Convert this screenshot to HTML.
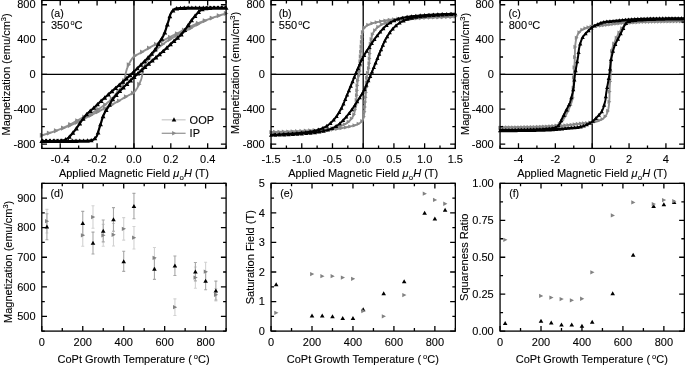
<!DOCTYPE html><html><head><meta charset="utf-8"><style>html,body{margin:0;padding:0;background:#fff;}svg{display:block;font-family:"Liberation Sans", sans-serif;will-change:transform;} text{stroke:#000;stroke-width:0.1px;}</style></head><body>
<svg width="685" height="365" viewBox="0 0 685 365">
<rect width="685" height="365" fill="#fff"/>
<path d="M41.8 74.4H226.1M133.95 0.4V148.4" stroke="#000" stroke-width="1.3" fill="none"/>
<path d="M226.1 13.46L225.93 13.51L225.46 13.66L224.73 13.89L223.78 14.19L222.65 14.54L221.38 14.95L220.01 15.38L218.59 15.84L217.16 16.31L215.75 16.77L214.42 17.22L213.2 17.64L211.82 18.12L210.4 18.61L208.93 19.13L207.45 19.65L205.94 20.19L204.42 20.74L202.91 21.29L201.41 21.86L199.92 22.43L198.47 23.01L197.06 23.59L195.69 24.17L194.53 24.68L193.41 25.2L192.32 25.72L191.26 26.24L190.21 26.77L189.17 27.3L188.13 27.84L187.08 28.39L186.01 28.95L184.91 29.52L183.78 30.1L182.61 30.7L181.08 31.46L179.48 32.26L177.82 33.09L176.12 33.95L174.38 34.81L172.64 35.69L170.9 36.56L169.18 37.43L167.51 38.27L165.89 39.09L164.34 39.88L162.89 40.62L161.85 41.15L160.85 41.66L159.89 42.15L158.95 42.63L158.04 43.09L157.14 43.55L156.26 44.01L155.38 44.47L154.5 44.93L153.62 45.4L152.73 45.88L151.83 46.37L150.91 46.88L149.97 47.4L149.04 47.93L148.1 48.48L147.16 49.02L146.23 49.56L145.31 50.11L144.4 50.64L143.5 51.16L142.63 51.67L141.78 52.16L140.95 52.64L140.31 52.99L139.66 53.33L139.01 53.66L138.37 53.98L137.74 54.29L137.12 54.6L136.52 54.91L135.95 55.22L135.4 55.54L134.88 55.86L134.4 56.2L133.95 56.55L133.64 56.82L133.36 57.1L133.1 57.38L132.85 57.66L132.62 57.94L132.4 58.23L132.19 58.52L131.99 58.82L131.79 59.12L131.59 59.42L131.39 59.73L131.19 60.04L130.98 60.36L130.78 60.68L130.58 61.01L130.39 61.34L130.21 61.67L130.03 62.01L129.85 62.35L129.67 62.7L129.5 63.05L129.32 63.4L129.15 63.76L128.97 64.13L128.78 64.54L128.58 64.95L128.38 65.37L128.18 65.8L127.99 66.24L127.8 66.68L127.61 67.12L127.42 67.56L127.24 68.01L127.07 68.46L126.91 68.9L126.76 69.35L126.62 69.8L126.49 70.25L126.37 70.71L126.25 71.17L126.14 71.63L126.04 72.1L125.94 72.56L125.85 73.02L125.75 73.48L125.66 73.94L125.57 74.39L125.47 74.84L125.39 75.25L125.31 75.65L125.24 76.06L125.17 76.47L125.1 76.87L125.03 77.27L124.96 77.67L124.89 78.06L124.82 78.46L124.74 78.85L124.65 79.24L124.55 79.62L124.45 80L124.35 80.37L124.25 80.73L124.15 81.1L124.04 81.46L123.93 81.82L123.81 82.18L123.68 82.54L123.55 82.9L123.4 83.26L123.25 83.62L123.08 83.98L122.87 84.38L122.65 84.78L122.42 85.17L122.18 85.57L121.92 85.96L121.66 86.36L121.38 86.76L121.1 87.15L120.82 87.55L120.53 87.95L120.24 88.36L119.94 88.76L119.61 89.23L119.26 89.7L118.9 90.18L118.53 90.66L118.15 91.14L117.77 91.63L117.39 92.11L117.01 92.59L116.63 93.06L116.25 93.52L115.88 93.98L115.52 94.42L115.21 94.81L114.92 95.18L114.64 95.54L114.36 95.89L114.09 96.24L113.81 96.59L113.53 96.93L113.23 97.28L112.92 97.64L112.58 98.01L112.22 98.38L111.83 98.78L111.2 99.39L110.51 100.04L109.79 100.7L109.03 101.38L108.22 102.07L107.38 102.77L106.51 103.49L105.61 104.2L104.67 104.92L103.71 105.64L102.71 106.35L101.7 107.05L100.27 107.98L98.75 108.92L97.14 109.87L95.47 110.82L93.74 111.77L91.97 112.73L90.17 113.68L88.36 114.63L86.55 115.57L84.75 116.51L82.98 117.44L81.24 118.36L79.54 119.28L77.84 120.22L76.13 121.16L74.43 122.1L72.72 123.03L71.01 123.96L69.31 124.87L67.6 125.76L65.89 126.62L64.19 127.45L62.48 128.24L60.78 128.99L59.08 129.68L57.18 130.39L55.14 131.11L53.04 131.83L50.95 132.52L48.91 133.17L47.01 133.77L45.31 134.29L43.88 134.73L42.77 135.06L42.05 135.27L41.8 135.34L41.97 135.29L42.44 135.14L43.17 134.91L44.12 134.61L45.25 134.26L46.52 133.85L47.89 133.42L49.31 132.96L50.74 132.49L52.15 132.03L53.48 131.58L54.7 131.16L56.08 130.68L57.5 130.19L58.97 129.67L60.45 129.15L61.96 128.61L63.48 128.06L64.99 127.51L66.49 126.94L67.98 126.37L69.43 125.79L70.84 125.21L72.21 124.63L73.37 124.12L74.49 123.6L75.58 123.08L76.64 122.56L77.69 122.03L78.73 121.5L79.77 120.96L80.82 120.41L81.89 119.85L82.99 119.28L84.12 118.7L85.29 118.1L86.82 117.34L88.42 116.54L90.08 115.71L91.78 114.85L93.52 113.99L95.26 113.11L97 112.24L98.72 111.37L100.39 110.53L102.01 109.71L103.56 108.92L105.01 108.18L106.05 107.65L107.05 107.14L108.01 106.65L108.95 106.17L109.86 105.71L110.76 105.25L111.64 104.79L112.52 104.33L113.4 103.87L114.28 103.4L115.17 102.92L116.07 102.43L116.99 101.92L117.93 101.4L118.86 100.87L119.8 100.32L120.74 99.78L121.67 99.24L122.59 98.69L123.5 98.16L124.4 97.64L125.27 97.13L126.12 96.64L126.95 96.16L127.59 95.81L128.24 95.47L128.89 95.14L129.53 94.82L130.16 94.51L130.78 94.2L131.38 93.89L131.95 93.58L132.5 93.26L133.02 92.94L133.5 92.6L133.95 92.25L134.26 91.98L134.54 91.7L134.8 91.42L135.05 91.14L135.28 90.86L135.5 90.57L135.71 90.28L135.91 89.98L136.11 89.68L136.31 89.38L136.51 89.07L136.71 88.76L136.92 88.44L137.12 88.12L137.32 87.79L137.51 87.46L137.69 87.13L137.87 86.79L138.05 86.45L138.23 86.1L138.4 85.75L138.58 85.4L138.75 85.04L138.93 84.67L139.12 84.26L139.32 83.85L139.52 83.43L139.72 83L139.91 82.56L140.1 82.12L140.29 81.68L140.48 81.24L140.66 80.79L140.83 80.34L140.99 79.9L141.14 79.45L141.28 79L141.41 78.55L141.53 78.09L141.65 77.63L141.76 77.17L141.86 76.7L141.96 76.24L142.05 75.78L142.15 75.32L142.24 74.86L142.33 74.41L142.43 73.96L142.51 73.55L142.59 73.15L142.66 72.74L142.73 72.33L142.8 71.93L142.87 71.53L142.94 71.13L143.01 70.74L143.08 70.34L143.16 69.95L143.25 69.56L143.35 69.18L143.45 68.8L143.55 68.43L143.65 68.07L143.75 67.7L143.86 67.34L143.97 66.98L144.09 66.62L144.22 66.26L144.35 65.9L144.5 65.54L144.65 65.18L144.82 64.82L145.03 64.42L145.25 64.02L145.48 63.63L145.72 63.23L145.98 62.84L146.24 62.44L146.52 62.04L146.8 61.65L147.08 61.25L147.37 60.85L147.66 60.44L147.96 60.04L148.29 59.57L148.64 59.1L149 58.62L149.37 58.14L149.75 57.66L150.13 57.17L150.51 56.69L150.89 56.21L151.27 55.74L151.65 55.28L152.02 54.82L152.38 54.38L152.69 53.99L152.98 53.62L153.26 53.26L153.54 52.91L153.81 52.56L154.09 52.21L154.37 51.87L154.67 51.52L154.98 51.16L155.32 50.79L155.68 50.42L156.07 50.02L156.7 49.41L157.39 48.76L158.11 48.1L158.87 47.42L159.68 46.73L160.52 46.03L161.39 45.31L162.29 44.6L163.23 43.88L164.19 43.16L165.19 42.45L166.2 41.75L167.63 40.82L169.15 39.88L170.76 38.93L172.43 37.98L174.16 37.03L175.93 36.07L177.73 35.12L179.54 34.17L181.35 33.23L183.15 32.29L184.92 31.36L186.66 30.44L188.36 29.52L190.06 28.58L191.77 27.64L193.47 26.7L195.18 25.77L196.89 24.84L198.59 23.93L200.3 23.04L202.01 22.18L203.71 21.35L205.42 20.56L207.12 19.81L208.82 19.12L210.72 18.41L212.76 17.69L214.86 16.97L216.95 16.28L218.99 15.63L220.89 15.03L222.59 14.51L224.02 14.07L225.13 13.74L225.85 13.53L226.1 13.46" fill="none" stroke="#909090" stroke-width="1.9" stroke-linejoin="round"/>
<path d="M224.13 11.04L228.5 13.46L224.13 15.87ZM217.08 13.28L221.45 15.7L217.08 18.11ZM210.03 15.64L214.4 18.06L210.03 20.47ZM202.98 18.13L207.35 20.55L202.98 22.96ZM195.94 20.82L200.31 23.24L195.94 25.65ZM188.93 24.01L193.3 26.42L188.93 28.84ZM181.94 27.62L186.31 30.04L181.94 32.45ZM174.95 31.13L179.32 33.55L174.95 35.96ZM167.96 34.64L172.33 37.06L167.96 39.47ZM160.97 38.18L165.34 40.6L160.97 43.01ZM153.98 41.76L158.35 44.17L153.98 46.59ZM147 45.56L151.37 47.97L147 50.39ZM140.05 49.61L144.42 52.03L140.05 54.44ZM133.07 53.35L137.44 55.76L133.07 58.18ZM126.75 62.24L131.12 64.66L126.75 67.07ZM122.4 77.91L126.77 80.32L122.4 82.74ZM116.42 88.43L120.79 90.84L116.42 93.26ZM109.88 96.35L114.25 98.76L109.88 101.18ZM103.09 102.21L107.46 104.63L103.09 107.04ZM96.18 106.86L100.55 109.28L96.18 111.69ZM89.21 110.73L93.58 113.15L89.21 115.56ZM82.22 114.39L86.59 116.8L82.22 119.22ZM75.25 118.14L79.62 120.56L75.25 122.97ZM68.27 121.96L72.64 124.37L68.27 126.79ZM61.28 125.47L65.65 127.89L61.28 130.3ZM54.25 128.32L58.62 130.73L54.25 133.15ZM47.2 130.68L51.57 133.09L47.2 135.51ZM40.14 132.84L44.51 135.25L40.14 137.67ZM39.83 132.93L44.2 135.34L39.83 137.76ZM46.89 130.69L51.26 133.1L46.89 135.52ZM53.94 128.33L58.31 130.74L53.94 133.16ZM60.99 125.84L65.36 128.25L60.99 130.67ZM68.03 123.15L72.4 125.56L68.03 127.98ZM75.04 119.96L79.41 122.38L75.04 124.79ZM82.02 116.35L86.39 118.76L82.02 121.18ZM89.02 112.84L93.39 115.25L89.02 117.67ZM96.01 109.33L100.38 111.74L96.01 114.16ZM103 105.79L107.37 108.2L103 110.62ZM109.99 102.21L114.36 104.63L109.99 107.04ZM116.96 98.41L121.33 100.83L116.96 103.24ZM123.92 94.36L128.29 96.77L123.92 99.19ZM130.9 90.62L135.27 93.04L130.9 95.45ZM137.21 81.73L141.58 84.14L137.21 86.56ZM141.57 66.06L145.94 68.48L141.57 70.89ZM147.55 55.54L151.92 57.96L147.55 60.37ZM154.08 47.62L158.45 50.04L154.08 52.45ZM160.88 41.76L165.25 44.17L160.88 46.59ZM167.79 37.11L172.16 39.52L167.79 41.94ZM174.76 33.24L179.13 35.65L174.76 38.07ZM181.74 29.58L186.11 32L181.74 34.41ZM188.72 25.83L193.09 28.24L188.72 30.66ZM195.69 22.01L200.06 24.43L195.69 26.84ZM202.69 18.5L207.06 20.91L202.69 23.33ZM209.71 15.65L214.08 18.07L209.71 20.48ZM216.77 13.29L221.14 15.71L216.77 18.12ZM223.83 11.13L228.2 13.55L223.83 15.96Z" fill="#888"/>
<path d="M226.1 7.8L225.54 7.8L223.97 7.8L221.56 7.79L218.48 7.79L214.88 7.79L210.93 7.79L206.8 7.79L202.66 7.8L198.67 7.81L194.99 7.83L191.79 7.85L189.24 7.89L188.07 7.9L186.95 7.92L185.87 7.93L184.83 7.94L183.84 7.96L182.9 7.97L182 8L181.15 8.02L180.34 8.06L179.57 8.11L178.85 8.16L178.18 8.24L177.83 8.28L177.5 8.31L177.19 8.35L176.89 8.39L176.61 8.43L176.34 8.47L176.08 8.52L175.82 8.58L175.58 8.65L175.34 8.73L175.1 8.82L174.86 8.93L174.65 9.05L174.44 9.17L174.24 9.31L174.05 9.46L173.86 9.61L173.68 9.78L173.5 9.95L173.33 10.12L173.16 10.3L172.99 10.48L172.82 10.66L172.65 10.85L172.48 11.04L172.31 11.23L172.15 11.42L171.99 11.62L171.83 11.81L171.68 12.02L171.53 12.23L171.38 12.45L171.23 12.69L171.09 12.93L170.95 13.19L170.81 13.46L170.61 13.89L170.43 14.36L170.25 14.86L170.08 15.39L169.91 15.94L169.75 16.51L169.6 17.09L169.44 17.68L169.28 18.27L169.12 18.85L168.95 19.43L168.78 19.99L168.6 20.56L168.42 21.15L168.23 21.74L168.04 22.33L167.85 22.93L167.66 23.52L167.48 24.11L167.29 24.7L167.1 25.28L166.92 25.85L166.74 26.41L166.57 26.95L166.43 27.41L166.29 27.87L166.16 28.31L166.03 28.75L165.9 29.19L165.77 29.62L165.64 30.05L165.51 30.47L165.37 30.9L165.23 31.32L165.07 31.75L164.91 32.18L164.74 32.62L164.56 33.06L164.38 33.5L164.2 33.94L164.01 34.38L163.81 34.81L163.61 35.25L163.4 35.69L163.19 36.12L162.97 36.55L162.75 36.98L162.52 37.4L162.27 37.83L162.02 38.25L161.75 38.66L161.48 39.07L161.21 39.47L160.93 39.88L160.64 40.28L160.35 40.7L160.06 41.12L159.78 41.55L159.49 41.99L159.2 42.45L158.87 43L158.57 43.56L158.27 44.12L157.99 44.7L157.7 45.28L157.4 45.87L157.08 46.48L156.74 47.11L156.36 47.76L155.95 48.43L155.48 49.13L154.96 49.85L153.82 51.3L152.51 52.86L151.03 54.52L149.42 56.27L147.68 58.09L145.85 59.96L143.95 61.88L141.98 63.83L139.98 65.79L137.96 67.75L135.94 69.7L133.95 71.61L131.48 73.96L128.8 76.43L125.97 78.99L123.03 81.61L120.05 84.25L117.06 86.88L114.11 89.45L111.27 91.94L108.57 94.29L106.08 96.49L103.83 98.49L101.88 100.26L101.01 101.06L100.2 101.82L99.45 102.52L98.75 103.19L98.08 103.83L97.44 104.44L96.83 105.03L96.23 105.61L95.63 106.18L95.02 106.75L94.41 107.33L93.77 107.92L93.18 108.45L92.58 108.98L91.99 109.5L91.39 110.01L90.79 110.51L90.21 111.01L89.63 111.51L89.06 112.01L88.5 112.51L87.97 113.01L87.45 113.51L86.95 114.01L86.55 114.45L86.15 114.88L85.77 115.32L85.4 115.76L85.05 116.19L84.7 116.63L84.36 117.06L84.02 117.5L83.69 117.94L83.36 118.37L83.04 118.8L82.71 119.24L82.42 119.64L82.13 120.04L81.84 120.44L81.56 120.84L81.29 121.24L81.02 121.63L80.75 122.03L80.48 122.43L80.21 122.83L79.94 123.23L79.67 123.62L79.4 124.02L79.12 124.42L78.85 124.82L78.58 125.22L78.31 125.62L78.05 126.02L77.78 126.41L77.5 126.81L77.23 127.21L76.95 127.61L76.67 128.01L76.38 128.41L76.08 128.81L75.75 129.25L75.42 129.69L75.07 130.13L74.72 130.58L74.37 131.02L74.01 131.47L73.65 131.91L73.29 132.35L72.93 132.78L72.56 133.21L72.2 133.63L71.84 134.04L71.51 134.41L71.18 134.79L70.85 135.17L70.52 135.55L70.19 135.93L69.86 136.29L69.52 136.65L69.18 137L68.84 137.33L68.5 137.64L68.14 137.94L67.79 138.21L67.47 138.44L67.15 138.65L66.82 138.86L66.5 139.05L66.17 139.23L65.84 139.4L65.5 139.56L65.16 139.71L64.81 139.85L64.46 139.98L64.1 140.1L63.73 140.22L63.33 140.33L62.93 140.42L62.53 140.49L62.13 140.56L61.72 140.61L61.31 140.65L60.87 140.68L60.42 140.71L59.95 140.74L59.46 140.76L58.94 140.79L58.39 140.83L57.22 140.88L55.77 140.93L54.11 140.96L52.31 140.98L50.45 141L48.59 141.01L46.82 141.01L45.21 141.01L43.83 141.01L42.75 141L42.05 141L41.8 141L42.36 141L43.93 141L46.34 141.01L49.42 141.01L53.02 141.01L56.97 141.01L61.1 141.01L65.24 141L69.23 140.99L72.91 140.97L76.11 140.95L78.66 140.91L79.83 140.9L80.95 140.88L82.03 140.87L83.07 140.86L84.06 140.84L85 140.83L85.9 140.8L86.75 140.78L87.56 140.74L88.33 140.69L89.05 140.64L89.72 140.56L90.07 140.52L90.4 140.49L90.71 140.45L91.01 140.41L91.29 140.37L91.56 140.33L91.82 140.28L92.08 140.22L92.32 140.15L92.56 140.07L92.8 139.98L93.04 139.87L93.25 139.75L93.46 139.63L93.66 139.49L93.85 139.34L94.04 139.19L94.22 139.02L94.4 138.85L94.57 138.68L94.74 138.5L94.91 138.32L95.08 138.14L95.25 137.95L95.42 137.76L95.59 137.57L95.75 137.38L95.91 137.18L96.07 136.99L96.22 136.78L96.37 136.57L96.52 136.35L96.67 136.11L96.81 135.87L96.95 135.61L97.09 135.34L97.29 134.91L97.47 134.44L97.65 133.94L97.82 133.41L97.99 132.86L98.15 132.29L98.3 131.71L98.46 131.12L98.62 130.53L98.78 129.95L98.95 129.37L99.12 128.81L99.3 128.24L99.48 127.65L99.67 127.06L99.86 126.47L100.05 125.87L100.24 125.28L100.42 124.69L100.61 124.1L100.8 123.52L100.98 122.95L101.16 122.39L101.33 121.85L101.47 121.39L101.61 120.93L101.74 120.49L101.87 120.05L102 119.61L102.13 119.18L102.26 118.75L102.39 118.33L102.53 117.9L102.67 117.48L102.83 117.05L102.99 116.62L103.16 116.18L103.34 115.74L103.52 115.3L103.7 114.86L103.89 114.42L104.09 113.99L104.29 113.55L104.5 113.11L104.71 112.68L104.93 112.25L105.15 111.82L105.38 111.4L105.63 110.97L105.88 110.55L106.15 110.14L106.42 109.73L106.69 109.33L106.97 108.92L107.26 108.52L107.55 108.1L107.84 107.68L108.12 107.25L108.41 106.81L108.7 106.35L109.03 105.8L109.33 105.24L109.63 104.68L109.91 104.1L110.2 103.52L110.5 102.93L110.82 102.32L111.16 101.69L111.54 101.04L111.95 100.37L112.42 99.67L112.94 98.95L114.08 97.5L115.39 95.94L116.87 94.28L118.48 92.53L120.22 90.71L122.05 88.84L123.95 86.92L125.92 84.97L127.92 83.01L129.94 81.05L131.96 79.1L133.95 77.19L136.42 74.84L139.1 72.37L141.93 69.81L144.87 67.19L147.85 64.55L150.84 61.92L153.79 59.35L156.63 56.86L159.33 54.51L161.82 52.31L164.07 50.31L166.02 48.54L166.89 47.74L167.7 46.98L168.45 46.28L169.15 45.61L169.82 44.97L170.46 44.36L171.07 43.77L171.67 43.19L172.27 42.62L172.88 42.05L173.49 41.47L174.13 40.88L174.72 40.35L175.32 39.82L175.91 39.3L176.51 38.79L177.11 38.29L177.69 37.79L178.27 37.29L178.84 36.79L179.4 36.29L179.93 35.79L180.45 35.29L180.95 34.79L181.35 34.35L181.75 33.92L182.13 33.48L182.5 33.04L182.85 32.61L183.2 32.17L183.54 31.74L183.88 31.3L184.21 30.86L184.54 30.43L184.86 30L185.19 29.56L185.48 29.16L185.77 28.76L186.06 28.36L186.34 27.96L186.61 27.56L186.88 27.17L187.15 26.77L187.42 26.37L187.69 25.97L187.96 25.57L188.23 25.18L188.5 24.78L188.78 24.38L189.05 23.98L189.32 23.58L189.59 23.18L189.85 22.78L190.12 22.39L190.4 21.99L190.67 21.59L190.95 21.19L191.23 20.79L191.52 20.39L191.82 19.99L192.15 19.55L192.48 19.11L192.83 18.67L193.18 18.22L193.53 17.78L193.89 17.33L194.25 16.89L194.61 16.45L194.97 16.02L195.34 15.59L195.7 15.17L196.06 14.76L196.39 14.39L196.72 14.01L197.05 13.63L197.38 13.25L197.71 12.87L198.04 12.51L198.38 12.15L198.72 11.8L199.06 11.47L199.4 11.16L199.76 10.86L200.11 10.59L200.43 10.36L200.75 10.15L201.08 9.94L201.4 9.75L201.73 9.57L202.06 9.4L202.4 9.24L202.74 9.09L203.09 8.95L203.44 8.82L203.8 8.7L204.17 8.58L204.57 8.47L204.97 8.38L205.37 8.31L205.77 8.24L206.18 8.19L206.59 8.15L207.03 8.12L207.48 8.09L207.95 8.06L208.44 8.04L208.96 8.01L209.51 7.97L210.68 7.92L212.13 7.87L213.79 7.84L215.59 7.82L217.45 7.8L219.31 7.79L221.08 7.79L222.69 7.79L224.07 7.79L225.15 7.8L225.85 7.8L226.1 7.8" fill="none" stroke="#000" stroke-width="2.2" stroke-linejoin="round"/>
<path d="M223.69 9.77L226.1 5.4L228.52 9.77ZM219.89 9.76L222.3 5.39L224.72 9.76ZM216.09 9.76L218.5 5.39L220.92 9.76ZM212.29 9.75L214.7 5.38L217.12 9.75ZM208.49 9.75L210.9 5.38L213.32 9.75ZM204.69 9.76L207.1 5.39L209.52 9.76ZM200.89 9.76L203.3 5.39L205.72 9.76ZM197.09 9.78L199.5 5.41L201.92 9.78ZM193.29 9.79L195.7 5.42L198.12 9.79ZM189.49 9.82L191.9 5.45L194.32 9.82ZM185.69 9.87L188.1 5.5L190.52 9.87ZM181.89 9.92L184.3 5.55L186.72 9.92ZM178.09 10.02L180.5 5.65L182.92 10.02ZM174.29 10.38L176.7 6.01L179.12 10.38ZM170.58 12.44L172.99 8.07L175.41 12.44ZM167.42 18.18L169.84 13.81L172.25 18.18ZM164.95 26.42L167.37 22.05L169.78 26.42ZM162.39 34.42L164.8 30.05L167.22 34.42ZM159.3 40.69L161.71 36.32L164.13 40.69ZM155.96 45.89L158.38 41.52L160.79 45.89ZM152.73 51.56L155.14 47.19L157.56 51.56ZM149.23 55.8L151.65 51.43L154.06 55.8ZM145.68 59.63L148.09 55.26L150.51 59.63ZM142.1 63.28L144.51 58.91L146.93 63.28ZM138.51 66.83L140.92 62.46L143.34 66.83ZM134.91 70.33L137.32 65.96L139.74 70.33ZM131.31 73.8L133.72 69.43L136.14 73.8ZM127.7 77.18L130.11 72.81L132.53 77.18ZM124.08 80.48L126.49 76.11L128.91 80.48ZM120.45 83.73L122.87 79.36L125.28 83.73ZM116.82 86.93L119.24 82.56L121.65 86.93ZM113.19 90.12L115.6 85.75L118.02 90.12ZM109.55 93.29L111.97 88.92L114.38 93.29ZM105.92 96.47L108.34 92.1L110.75 96.47ZM102.29 99.68L104.71 95.31L107.12 99.68ZM98.67 102.96L101.08 98.59L103.5 102.96ZM95.06 106.37L97.48 102L99.89 106.37ZM91.45 109.79L93.87 105.42L96.28 109.79ZM87.82 112.96L90.23 108.59L92.65 112.96ZM84.21 116.33L86.62 111.96L89.04 116.33ZM80.72 120.64L83.14 116.27L85.55 120.64ZM77.32 125.49L79.74 121.12L82.15 125.49ZM73.94 130.41L76.35 126.04L78.77 130.41ZM70.46 134.81L72.88 130.44L75.29 134.81ZM66.93 138.8L69.34 134.43L71.76 138.8ZM63.25 141.45L65.66 137.08L68.08 141.45ZM59.47 142.55L61.88 138.18L64.3 142.55ZM55.67 142.81L58.09 138.44L60.5 142.81ZM51.87 142.92L54.29 138.55L56.7 142.92ZM48.07 142.96L50.49 138.59L52.9 142.96ZM44.27 142.98L46.69 138.61L49.1 142.98ZM40.47 142.97L42.89 138.6L45.3 142.97ZM39.38 142.97L41.8 138.6L44.21 142.97ZM43.18 142.97L45.6 138.6L48.01 142.97ZM46.98 142.98L49.4 138.61L51.81 142.98ZM50.78 142.98L53.2 138.61L55.61 142.98ZM54.58 142.98L57 138.61L59.41 142.98ZM58.38 142.98L60.8 138.61L63.21 142.98ZM62.18 142.97L64.6 138.6L67.01 142.97ZM65.98 142.96L68.4 138.59L70.81 142.96ZM69.78 142.94L72.2 138.57L74.61 142.94ZM73.58 142.91L76 138.54L78.41 142.91ZM77.38 142.86L79.8 138.49L82.21 142.86ZM81.18 142.82L83.6 138.45L86.01 142.82ZM84.98 142.71L87.4 138.34L89.81 142.71ZM88.78 142.35L91.2 137.98L93.61 142.35ZM92.49 140.29L94.91 135.92L97.32 140.29ZM95.65 134.55L98.06 130.18L100.48 134.55ZM98.12 126.31L100.53 121.94L102.95 126.31ZM100.68 118.31L103.1 113.94L105.51 118.31ZM103.77 112.04L106.19 107.67L108.6 112.04ZM107.11 106.84L109.52 102.47L111.94 106.84ZM110.34 101.17L112.76 96.8L115.17 101.17ZM113.84 96.94L116.25 92.57L118.67 96.94ZM117.39 93.1L119.81 88.73L122.22 93.1ZM120.97 89.45L123.39 85.08L125.8 89.45ZM124.56 85.9L126.98 81.53L129.39 85.9ZM128.16 82.4L130.58 78.03L132.99 82.4ZM131.76 78.94L134.18 74.57L136.59 78.94ZM135.37 75.55L137.79 71.18L140.2 75.55ZM138.99 72.25L141.41 67.88L143.82 72.25ZM142.62 69.01L145.03 64.64L147.45 69.01ZM146.25 65.8L148.66 61.43L151.08 65.8ZM149.88 62.62L152.3 58.25L154.71 62.62ZM153.52 59.44L155.93 55.07L158.35 59.44ZM157.15 56.26L159.56 51.89L161.98 56.26ZM160.78 53.05L163.19 48.68L165.61 53.05ZM164.4 49.77L166.82 45.4L169.23 49.77ZM168.01 46.36L170.42 41.99L172.84 46.36ZM171.62 42.94L174.03 38.57L176.45 42.94ZM175.25 39.78L177.67 35.41L180.08 39.78ZM178.86 36.4L181.28 32.03L183.69 36.4ZM182.35 32.09L184.76 27.72L187.18 32.09ZM185.75 27.24L188.16 22.87L190.58 27.24ZM189.13 22.32L191.55 17.95L193.96 22.32ZM192.61 17.93L195.02 13.56L197.44 17.93ZM196.14 13.93L198.56 9.56L200.97 13.93ZM199.82 11.28L202.24 6.91L204.65 11.28ZM203.6 10.18L206.02 5.81L208.43 10.18ZM207.4 9.93L209.81 5.56L212.23 9.93ZM211.2 9.81L213.61 5.44L216.03 9.81ZM215 9.77L217.41 5.4L219.83 9.77ZM218.8 9.76L221.21 5.39L223.63 9.76ZM222.6 9.76L225.01 5.39L227.43 9.76Z" fill="#000"/>
<rect x="41.8" y="0.4" width="184.3" height="148" fill="none" stroke="#000" stroke-width="1.3"/>
<path d="M41.8 148.4v-3M41.8 0.4v3M60.23 148.4v-5.2M60.23 0.4v5.2M78.66 148.4v-3M78.66 0.4v3M97.09 148.4v-5.2M97.09 0.4v5.2M115.52 148.4v-3M115.52 0.4v3M133.95 148.4v-5.2M133.95 0.4v5.2M152.38 148.4v-3M152.38 0.4v3M170.81 148.4v-5.2M170.81 0.4v5.2M189.24 148.4v-3M189.24 0.4v3M207.67 148.4v-5.2M207.67 0.4v5.2M226.1 148.4v-3M226.1 0.4v3M41.8 144.05h5.2M226.1 144.05h-5.2M41.8 126.64h3M226.1 126.64h-3M41.8 109.22h5.2M226.1 109.22h-5.2M41.8 91.81h3M226.1 91.81h-3M41.8 74.4h5.2M226.1 74.4h-5.2M41.8 56.99h3M226.1 56.99h-3M41.8 39.58h5.2M226.1 39.58h-5.2M41.8 22.16h3M226.1 22.16h-3M41.8 4.75h5.2M226.1 4.75h-5.2" stroke="#000" stroke-width="1.3" fill="none"/>
<text x="60.23" y="163" text-anchor="middle" font-size="11">-0.4</text>
<text x="97.09" y="163" text-anchor="middle" font-size="11">-0.2</text>
<text x="133.95" y="163" text-anchor="middle" font-size="11">0.0</text>
<text x="170.81" y="163" text-anchor="middle" font-size="11">0.2</text>
<text x="207.67" y="163" text-anchor="middle" font-size="11">0.4</text>
<text x="35.5" y="147.65" text-anchor="end" font-size="11">-800</text>
<text x="35.5" y="112.82" text-anchor="end" font-size="11">-400</text>
<text x="35.5" y="78" text-anchor="end" font-size="11">0</text>
<text x="35.5" y="43.18" text-anchor="end" font-size="11">400</text>
<text x="35.5" y="8.35" text-anchor="end" font-size="11">800</text>
<text x="133.95" y="176.9" text-anchor="middle" font-size="11">Applied Magnetic Field <tspan font-style="italic">&#956;</tspan><tspan font-size="7.8" dy="2.6" dx="0.3">o</tspan><tspan dy="-2.6" font-style="italic">H</tspan> (T)</text>
<text transform="translate(10.2 74.4) rotate(-90)" text-anchor="middle" font-size="11">Magnetization (emu/cm<tspan font-size="7.5" dy="-4">3</tspan><tspan dy="4">)</tspan></text>
<text x="50.8" y="17.2" text-anchor="start" font-size="10.6">(a)</text>
<text x="51" y="28.6" text-anchor="start" font-size="11">350<tspan font-size="7.3" dy="-4" dx="1.1">o</tspan><tspan dy="4">C</tspan></text>
<path d="M271.05 74.4H455.35M363.2 0.4V148.4" stroke="#000" stroke-width="1.3" fill="none"/>
<path d="M455.35 16.59L454.93 16.6L453.75 16.61L451.91 16.62L449.53 16.65L446.73 16.68L443.62 16.72L440.3 16.77L436.89 16.82L433.51 16.88L430.26 16.95L427.27 17.03L424.63 17.12L422.48 17.19L420.36 17.27L418.25 17.35L416.17 17.43L414.11 17.52L412.06 17.62L410.03 17.73L408.02 17.85L406.02 17.99L404.02 18.14L402.04 18.31L400.06 18.51L398.19 18.71L396.29 18.94L394.38 19.18L392.46 19.43L390.56 19.7L388.68 19.99L386.84 20.28L385.04 20.58L383.3 20.88L381.63 21.19L380.05 21.5L378.56 21.82L377.58 22.03L376.63 22.24L375.71 22.45L374.8 22.67L373.93 22.88L373.09 23.1L372.28 23.33L371.49 23.56L370.75 23.81L370.04 24.06L369.36 24.32L368.73 24.6L368.32 24.8L367.93 25L367.56 25.2L367.2 25.41L366.86 25.62L366.53 25.83L366.21 26.05L365.92 26.27L365.63 26.5L365.36 26.73L365.1 26.97L364.86 27.21L364.67 27.41L364.5 27.61L364.33 27.81L364.18 28.01L364.03 28.22L363.9 28.42L363.77 28.64L363.65 28.86L363.53 29.08L363.42 29.32L363.31 29.57L363.2 29.83L363.07 30.17L362.96 30.52L362.86 30.88L362.77 31.26L362.69 31.65L362.61 32.05L362.54 32.46L362.48 32.89L362.42 33.34L362.35 33.8L362.29 34.29L362.22 34.79L362.11 35.64L362.01 36.55L361.91 37.53L361.82 38.56L361.73 39.64L361.65 40.74L361.57 41.86L361.49 42.99L361.41 44.12L361.33 45.24L361.25 46.34L361.17 47.41L361.09 48.46L361.01 49.5L360.93 50.53L360.86 51.57L360.78 52.61L360.71 53.64L360.63 54.68L360.55 55.72L360.48 56.77L360.4 57.82L360.33 58.88L360.25 59.95L360.17 61.11L360.1 62.32L360.03 63.57L359.97 64.84L359.9 66.12L359.83 67.39L359.76 68.63L359.68 69.82L359.6 70.95L359.5 72L359.39 72.95L359.27 73.79L359.2 74.18L359.12 74.53L359.04 74.86L358.96 75.16L358.87 75.45L358.78 75.72L358.69 75.99L358.61 76.26L358.52 76.53L358.44 76.82L358.36 77.12L358.29 77.45L358.2 77.87L358.12 78.3L358.03 78.74L357.96 79.19L357.88 79.65L357.81 80.12L357.74 80.59L357.67 81.08L357.61 81.57L357.54 82.08L357.48 82.59L357.43 83.11L357.36 83.76L357.3 84.43L357.25 85.12L357.2 85.82L357.16 86.54L357.12 87.27L357.08 88.01L357.04 88.75L357 89.51L356.96 90.27L356.92 91.04L356.87 91.81L356.82 92.71L356.77 93.64L356.72 94.59L356.67 95.57L356.62 96.55L356.56 97.53L356.51 98.51L356.45 99.48L356.38 100.44L356.31 101.37L356.23 102.27L356.14 103.13L356.05 103.81L355.97 104.47L355.88 105.13L355.79 105.77L355.69 106.4L355.59 107.02L355.49 107.63L355.38 108.22L355.27 108.81L355.15 109.39L355.03 109.97L354.91 110.53L354.8 111L354.71 111.46L354.61 111.91L354.52 112.34L354.43 112.78L354.33 113.2L354.21 113.63L354.09 114.05L353.94 114.47L353.78 114.89L353.59 115.32L353.37 115.75L353.06 116.3L352.73 116.87L352.36 117.44L351.97 118.01L351.55 118.58L351.1 119.15L350.62 119.71L350.12 120.26L349.59 120.8L349.03 121.32L348.45 121.81L347.84 122.28L347.04 122.84L346.2 123.37L345.32 123.88L344.4 124.36L343.43 124.82L342.42 125.26L341.38 125.67L340.29 126.07L339.16 126.46L338 126.82L336.79 127.17L335.55 127.51L333.67 127.95L331.67 128.34L329.56 128.68L327.36 128.98L325.07 129.23L322.72 129.46L320.31 129.67L317.86 129.86L315.38 130.03L312.89 130.2L310.39 130.37L307.91 130.55L304.79 130.76L301.22 130.96L297.35 131.15L293.29 131.32L289.2 131.47L285.21 131.61L281.46 131.74L278.08 131.84L275.21 131.92L272.99 131.98L271.56 132.02L271.05 132.03L271.47 132.2L272.65 132.19L274.49 132.18L276.87 132.15L279.67 132.12L282.78 132.08L286.1 132.03L289.51 131.98L292.89 131.92L296.14 131.85L299.13 131.77L301.77 131.68L303.92 131.61L306.04 131.53L308.15 131.45L310.23 131.37L312.29 131.28L314.34 131.18L316.37 131.07L318.38 130.95L320.38 130.81L322.38 130.66L324.36 130.49L326.34 130.29L328.21 130.09L330.11 129.86L332.02 129.62L333.94 129.37L335.84 129.1L337.72 128.81L339.56 128.52L341.36 128.22L343.1 127.92L344.77 127.61L346.35 127.3L347.84 126.98L348.82 126.77L349.77 126.56L350.69 126.35L351.6 126.13L352.47 125.92L353.31 125.7L354.12 125.47L354.91 125.24L355.65 124.99L356.36 124.74L357.04 124.48L357.67 124.2L358.08 124L358.47 123.8L358.84 123.6L359.2 123.39L359.54 123.18L359.87 122.97L360.19 122.75L360.48 122.53L360.77 122.3L361.04 122.07L361.3 121.83L361.54 121.59L361.73 121.39L361.9 121.19L362.07 120.99L362.22 120.79L362.37 120.58L362.5 120.38L362.63 120.16L362.75 119.94L362.87 119.72L362.98 119.48L363.09 119.23L363.2 118.97L363.33 118.63L363.44 118.28L363.54 117.92L363.63 117.54L363.71 117.15L363.79 116.75L363.86 116.34L363.92 115.91L363.98 115.46L364.05 115L364.11 114.51L364.18 114.01L364.29 113.16L364.39 112.25L364.49 111.27L364.58 110.24L364.67 109.16L364.75 108.06L364.83 106.94L364.91 105.81L364.99 104.68L365.07 103.56L365.15 102.46L365.23 101.39L365.31 100.34L365.39 99.3L365.47 98.27L365.54 97.23L365.62 96.19L365.69 95.16L365.77 94.12L365.85 93.08L365.92 92.03L366 90.98L366.07 89.92L366.15 88.85L366.23 87.69L366.3 86.48L366.37 85.23L366.43 83.96L366.5 82.68L366.57 81.41L366.64 80.17L366.72 78.98L366.8 77.85L366.9 76.8L367.01 75.85L367.13 75.01L367.2 74.62L367.28 74.27L367.36 73.94L367.44 73.64L367.53 73.35L367.62 73.08L367.71 72.81L367.79 72.54L367.88 72.27L367.96 71.98L368.04 71.68L368.11 71.35L368.2 70.93L368.28 70.5L368.37 70.06L368.44 69.61L368.52 69.15L368.59 68.68L368.66 68.21L368.73 67.72L368.79 67.23L368.86 66.72L368.92 66.21L368.97 65.69L369.04 65.04L369.1 64.37L369.15 63.68L369.2 62.98L369.24 62.26L369.28 61.53L369.32 60.79L369.36 60.05L369.4 59.29L369.44 58.53L369.48 57.76L369.53 56.99L369.58 56.09L369.63 55.16L369.68 54.21L369.73 53.23L369.78 52.25L369.84 51.27L369.89 50.29L369.95 49.32L370.02 48.36L370.09 47.43L370.17 46.53L370.26 45.67L370.35 44.99L370.43 44.33L370.52 43.67L370.61 43.03L370.71 42.4L370.81 41.78L370.91 41.17L371.02 40.58L371.13 39.99L371.25 39.41L371.37 38.83L371.49 38.27L371.6 37.8L371.69 37.34L371.79 36.89L371.88 36.46L371.97 36.02L372.07 35.6L372.19 35.17L372.31 34.75L372.46 34.33L372.62 33.91L372.81 33.48L373.03 33.05L373.34 32.5L373.67 31.93L374.04 31.36L374.43 30.79L374.85 30.22L375.3 29.65L375.78 29.09L376.28 28.54L376.81 28L377.37 27.48L377.95 26.99L378.56 26.52L379.36 25.96L380.2 25.43L381.08 24.92L382 24.44L382.97 23.98L383.98 23.54L385.02 23.13L386.11 22.73L387.24 22.34L388.4 21.98L389.61 21.63L390.85 21.29L392.73 20.85L394.73 20.46L396.84 20.12L399.04 19.82L401.33 19.57L403.68 19.34L406.09 19.13L408.54 18.94L411.02 18.77L413.51 18.6L416.01 18.43L418.49 18.25L421.61 18.04L425.18 17.84L429.05 17.65L433.11 17.48L437.2 17.33L441.19 17.19L444.94 17.06L448.32 16.96L451.19 16.88L453.41 16.82L454.84 16.78L455.35 16.77" fill="none" stroke="#909090" stroke-width="1.9" stroke-linejoin="round"/>
<path d="M453.64 14.49L457.44 16.59L453.64 18.69ZM449.24 14.53L453.04 16.63L449.24 18.73ZM444.84 14.58L448.64 16.68L444.84 18.78ZM440.44 14.64L444.24 16.74L440.44 18.84ZM436.04 14.71L439.84 16.81L436.04 18.91ZM431.64 14.79L435.44 16.89L431.64 18.99ZM427.24 14.89L431.04 16.99L427.24 19.09ZM422.84 15.02L426.64 17.12L422.84 19.22ZM418.45 15.18L422.25 17.28L418.45 19.38ZM414.05 15.35L417.85 17.45L414.05 19.55ZM409.65 15.56L413.45 17.66L409.65 19.76ZM405.26 15.82L409.06 17.92L405.26 20.02ZM400.87 16.17L404.67 18.27L400.87 20.37ZM396.49 16.61L400.29 18.71L396.49 20.81ZM392.12 17.15L395.92 19.25L392.12 21.35ZM387.75 17.77L391.55 19.87L387.75 21.97ZM383.4 18.46L387.2 20.56L383.4 22.66ZM379.06 19.26L382.86 21.36L379.06 23.46ZM374.73 20.18L378.53 22.28L374.73 24.38ZM370.44 21.27L374.24 23.37L370.44 25.47ZM366.29 22.86L370.09 24.96L366.29 27.06ZM362.69 25.62L366.49 27.72L362.69 29.82ZM360.89 30.01L364.69 32.11L360.89 34.21ZM360.26 34.85L364.06 36.95L360.26 39.05ZM359.86 39.72L363.66 41.82L359.86 43.92ZM359.52 44.59L363.32 46.69L359.52 48.79ZM359.15 49.46L362.95 51.56L359.15 53.66ZM358.79 54.33L362.59 56.43L358.79 58.53ZM358.45 59.21L362.25 61.31L358.45 63.41ZM358.19 64.09L361.99 66.19L358.19 68.29ZM357.88 68.96L361.68 71.06L357.88 73.16ZM357.03 73.74L360.83 75.84L357.03 77.94ZM356.03 78.5L359.83 80.6L356.03 82.7ZM355.52 83.35L359.32 85.45L355.52 87.55ZM355.25 88.23L359.05 90.33L355.25 92.43ZM354.97 93.11L358.77 95.21L354.97 97.31ZM354.7 97.99L358.5 100.09L354.7 102.19ZM354.2 102.84L358 104.94L354.2 107.04ZM353.37 107.64L357.17 109.74L353.37 111.84ZM352.24 112.36L356.04 114.46L352.24 116.56ZM349.86 116.45L353.66 118.55L349.86 120.65ZM346.65 119.78L350.45 121.88L346.65 123.98ZM342.83 122.19L346.63 124.29L342.83 126.39ZM338.71 123.92L342.51 126.02L338.71 128.12ZM334.48 125.23L338.28 127.33L334.48 129.43ZM330.16 126.2L333.96 128.3L330.16 130.4ZM325.8 126.85L329.6 128.95L325.8 131.05ZM321.43 127.32L325.23 129.42L321.43 131.52ZM317.04 127.69L320.84 129.79L317.04 131.89ZM312.65 128L316.45 130.1L312.65 132.2ZM308.26 128.3L312.06 130.4L308.26 132.5ZM303.86 128.61L307.66 130.71L303.86 132.81ZM299.47 128.86L303.27 130.96L299.47 133.06ZM295.07 129.07L298.87 131.17L295.07 133.27ZM290.68 129.25L294.48 131.35L290.68 133.45ZM286.28 129.42L290.08 131.52L286.28 133.62ZM281.88 129.57L285.68 131.67L281.88 133.77ZM277.48 129.71L281.28 131.81L277.48 133.91ZM273.08 129.83L276.88 131.93L273.08 134.03ZM269.34 130.11L273.14 132.21L269.34 134.31ZM273.74 130.07L277.54 132.17L273.74 134.27ZM278.14 130.02L281.94 132.12L278.14 134.22ZM282.54 129.96L286.34 132.06L282.54 134.16ZM286.94 129.89L290.74 131.99L286.94 134.09ZM291.34 129.81L295.14 131.91L291.34 134.01ZM295.74 129.71L299.54 131.81L295.74 133.91ZM300.14 129.58L303.94 131.68L300.14 133.78ZM304.53 129.42L308.33 131.52L304.53 133.62ZM308.93 129.25L312.73 131.35L308.93 133.45ZM313.33 129.04L317.13 131.14L313.33 133.24ZM317.72 128.78L321.52 130.88L317.72 132.98ZM322.11 128.43L325.91 130.53L322.11 132.63ZM326.49 127.99L330.29 130.09L326.49 132.19ZM330.86 127.45L334.66 129.55L330.86 131.65ZM335.23 126.83L339.03 128.93L335.23 131.03ZM339.58 126.14L343.38 128.24L339.58 130.34ZM343.92 125.34L347.72 127.44L343.92 129.54ZM348.25 124.42L352.05 126.52L348.25 128.62ZM352.54 123.33L356.34 125.43L352.54 127.53ZM356.69 121.74L360.49 123.84L356.69 125.94ZM360.29 118.98L364.09 121.08L360.29 123.18ZM362.09 114.59L365.89 116.69L362.09 118.79ZM362.72 109.75L366.52 111.85L362.72 113.95ZM363.12 104.88L366.92 106.98L363.12 109.08ZM363.46 100.01L367.26 102.11L363.46 104.21ZM363.83 95.14L367.63 97.24L363.83 99.34ZM364.19 90.27L367.99 92.37L364.19 94.47ZM364.53 85.39L368.33 87.49L364.53 89.59ZM364.79 80.51L368.59 82.61L364.79 84.71ZM365.1 75.64L368.9 77.74L365.1 79.84ZM365.95 70.86L369.75 72.96L365.95 75.06ZM366.95 66.1L370.75 68.2L366.95 70.3ZM367.46 61.25L371.26 63.35L367.46 65.45ZM367.73 56.37L371.53 58.47L367.73 60.57ZM368.01 51.49L371.81 53.59L368.01 55.69ZM368.28 46.61L372.08 48.71L368.28 50.81ZM368.78 41.76L372.58 43.86L368.78 45.96ZM369.61 36.96L373.41 39.06L369.61 41.16ZM370.74 32.24L374.54 34.34L370.74 36.44ZM373.12 28.15L376.92 30.25L373.12 32.35ZM376.33 24.82L380.13 26.92L376.33 29.02ZM380.15 22.41L383.95 24.51L380.15 26.61ZM384.27 20.68L388.07 22.78L384.27 24.88ZM388.5 19.37L392.3 21.47L388.5 23.57ZM392.82 18.4L396.62 20.5L392.82 22.6ZM397.18 17.75L400.98 19.85L397.18 21.95ZM401.55 17.28L405.35 19.38L401.55 21.48ZM405.94 16.91L409.74 19.01L405.94 21.11ZM410.33 16.6L414.13 18.7L410.33 20.8ZM414.72 16.3L418.52 18.4L414.72 20.5ZM419.12 15.99L422.92 18.09L419.12 20.19ZM423.51 15.74L427.31 17.84L423.51 19.94ZM427.91 15.53L431.71 17.63L427.91 19.73ZM432.3 15.35L436.1 17.45L432.3 19.55ZM436.7 15.18L440.5 17.28L436.7 19.38ZM441.1 15.03L444.9 17.13L441.1 19.23ZM445.5 14.89L449.3 16.99L445.5 19.09ZM449.9 14.77L453.7 16.87L449.9 18.97Z" fill="#888"/>
<path d="M455.35 13.72L455.1 13.73L454.41 13.74L453.33 13.77L451.92 13.81L450.27 13.86L448.42 13.91L446.44 13.97L444.4 14.03L442.37 14.1L440.4 14.18L438.56 14.25L436.92 14.33L435.42 14.41L433.9 14.49L432.39 14.57L430.87 14.66L429.35 14.76L427.84 14.86L426.34 14.96L424.85 15.07L423.38 15.18L421.93 15.3L420.5 15.42L419.1 15.55L417.9 15.66L416.7 15.77L415.52 15.88L414.35 15.99L413.19 16.11L412.05 16.23L410.92 16.36L409.8 16.5L408.69 16.65L407.6 16.82L406.53 17L405.47 17.2L404.53 17.39L403.6 17.59L402.68 17.79L401.77 18L400.87 18.23L399.98 18.46L399.11 18.7L398.25 18.96L397.4 19.24L396.57 19.53L395.76 19.84L394.96 20.16L394.26 20.47L393.57 20.8L392.9 21.13L392.24 21.48L391.59 21.84L390.95 22.22L390.32 22.6L389.71 23L389.1 23.41L388.51 23.82L387.92 24.25L387.34 24.69L386.79 25.13L386.25 25.58L385.73 26.04L385.22 26.51L384.72 26.99L384.22 27.49L383.73 27.99L383.25 28.5L382.77 29.02L382.29 29.54L381.81 30.07L381.32 30.61L380.8 31.19L380.29 31.79L379.78 32.39L379.27 33.01L378.77 33.63L378.27 34.26L377.77 34.9L377.27 35.55L376.78 36.2L376.29 36.86L375.79 37.52L375.3 38.18L374.78 38.89L374.27 39.61L373.76 40.34L373.24 41.08L372.73 41.82L372.23 42.57L371.72 43.33L371.22 44.08L370.72 44.85L370.22 45.61L369.72 46.38L369.22 47.15L368.71 47.94L368.2 48.73L367.68 49.52L367.17 50.31L366.67 51.11L366.16 51.91L365.66 52.72L365.16 53.54L364.66 54.38L364.17 55.23L363.68 56.1L363.2 56.99L362.66 58.02L362.14 59.07L361.62 60.14L361.11 61.22L360.6 62.32L360.1 63.44L359.6 64.58L359.1 65.73L358.6 66.9L358.09 68.08L357.58 69.27L357.06 70.48L356.44 71.92L355.81 73.43L355.17 74.99L354.52 76.59L353.86 78.2L353.21 79.82L352.57 81.43L351.93 83.02L351.32 84.56L350.72 86.04L350.16 87.45L349.62 88.76L349.26 89.65L348.92 90.49L348.59 91.3L348.28 92.09L347.97 92.85L347.67 93.59L347.37 94.33L347.07 95.06L346.77 95.8L346.46 96.54L346.14 97.3L345.81 98.08L345.46 98.92L345.11 99.77L344.76 100.63L344.41 101.5L344.05 102.36L343.69 103.23L343.33 104.1L342.95 104.97L342.56 105.83L342.17 106.68L341.76 107.52L341.33 108.35L340.89 109.18L340.44 110.01L339.99 110.84L339.52 111.67L339.05 112.5L338.56 113.31L338.06 114.12L337.55 114.91L337.03 115.69L336.49 116.46L335.94 117.2L335.37 117.93L334.8 118.62L334.22 119.31L333.61 119.99L333 120.66L332.37 121.32L331.73 121.96L331.08 122.58L330.43 123.18L329.76 123.76L329.1 124.31L328.43 124.84L327.75 125.33L327.15 125.74L326.54 126.13L325.92 126.49L325.3 126.83L324.67 127.16L324.04 127.46L323.4 127.76L322.77 128.04L322.12 128.31L321.48 128.57L320.84 128.82L320.2 129.07L319.58 129.31L318.99 129.52L318.4 129.73L317.82 129.92L317.24 130.11L316.65 130.29L316.05 130.45L315.42 130.62L314.77 130.78L314.08 130.94L313.35 131.09L312.58 131.25L311.22 131.5L309.74 131.74L308.14 131.97L306.47 132.19L304.72 132.4L302.91 132.6L301.07 132.79L299.21 132.97L297.35 133.14L295.51 133.3L293.7 133.45L291.94 133.6L290.07 133.74L287.98 133.87L285.75 134L283.44 134.12L281.13 134.23L278.89 134.34L276.8 134.42L274.93 134.5L273.34 134.56L272.12 134.61L271.33 134.63L271.05 134.64L271.3 135.07L271.99 135.06L273.07 135.03L274.48 134.99L276.13 134.94L277.98 134.89L279.96 134.83L282 134.77L284.03 134.7L286 134.62L287.84 134.55L289.48 134.47L290.98 134.39L292.5 134.31L294.01 134.23L295.53 134.14L297.05 134.04L298.56 133.94L300.06 133.84L301.55 133.73L303.02 133.62L304.47 133.5L305.9 133.38L307.3 133.25L308.5 133.14L309.7 133.03L310.88 132.92L312.05 132.81L313.21 132.69L314.35 132.57L315.48 132.44L316.6 132.3L317.71 132.15L318.8 131.98L319.87 131.8L320.93 131.6L321.87 131.41L322.8 131.21L323.72 131.01L324.63 130.8L325.53 130.57L326.42 130.34L327.29 130.1L328.15 129.84L329 129.56L329.83 129.27L330.64 128.96L331.44 128.64L332.14 128.33L332.83 128L333.5 127.67L334.16 127.32L334.81 126.96L335.45 126.58L336.08 126.2L336.69 125.8L337.3 125.39L337.89 124.98L338.48 124.55L339.06 124.11L339.61 123.67L340.15 123.22L340.67 122.76L341.18 122.29L341.68 121.81L342.18 121.31L342.67 120.81L343.15 120.3L343.63 119.78L344.11 119.26L344.59 118.73L345.08 118.19L345.6 117.61L346.11 117.01L346.62 116.41L347.13 115.79L347.63 115.17L348.13 114.54L348.63 113.9L349.13 113.25L349.62 112.6L350.11 111.94L350.61 111.28L351.1 110.62L351.62 109.91L352.13 109.19L352.64 108.46L353.16 107.72L353.67 106.98L354.17 106.23L354.68 105.47L355.18 104.72L355.68 103.95L356.18 103.19L356.68 102.42L357.18 101.65L357.69 100.86L358.2 100.07L358.72 99.28L359.23 98.49L359.73 97.69L360.24 96.89L360.74 96.08L361.24 95.26L361.74 94.42L362.23 93.57L362.72 92.7L363.2 91.81L363.74 90.78L364.26 89.73L364.78 88.66L365.29 87.58L365.8 86.48L366.3 85.36L366.8 84.22L367.3 83.07L367.8 81.9L368.31 80.72L368.82 79.53L369.34 78.32L369.96 76.88L370.59 75.37L371.23 73.81L371.88 72.21L372.54 70.6L373.19 68.98L373.83 67.37L374.47 65.78L375.08 64.24L375.68 62.76L376.24 61.35L376.78 60.04L377.14 59.15L377.48 58.31L377.81 57.5L378.12 56.71L378.43 55.95L378.73 55.21L379.03 54.47L379.33 53.74L379.63 53L379.94 52.26L380.26 51.5L380.59 50.72L380.94 49.88L381.29 49.03L381.64 48.17L381.99 47.3L382.35 46.44L382.71 45.57L383.07 44.7L383.45 43.83L383.84 42.97L384.23 42.12L384.64 41.28L385.07 40.45L385.51 39.62L385.96 38.79L386.41 37.96L386.88 37.13L387.35 36.3L387.84 35.49L388.34 34.68L388.85 33.89L389.37 33.11L389.91 32.34L390.46 31.6L391.03 30.87L391.6 30.18L392.18 29.49L392.79 28.81L393.4 28.14L394.03 27.48L394.67 26.84L395.32 26.22L395.97 25.62L396.64 25.04L397.3 24.49L397.97 23.96L398.65 23.47L399.25 23.06L399.86 22.67L400.48 22.31L401.1 21.97L401.73 21.64L402.36 21.34L403 21.04L403.63 20.76L404.28 20.49L404.92 20.23L405.56 19.98L406.2 19.73L406.82 19.49L407.41 19.28L408 19.07L408.58 18.88L409.16 18.69L409.75 18.51L410.35 18.35L410.98 18.18L411.63 18.02L412.32 17.86L413.05 17.71L413.82 17.55L415.18 17.3L416.66 17.06L418.26 16.83L419.93 16.61L421.68 16.4L423.49 16.2L425.33 16.01L427.19 15.83L429.05 15.66L430.89 15.5L432.7 15.35L434.46 15.2L436.33 15.06L438.42 14.93L440.65 14.8L442.96 14.68L445.27 14.57L447.51 14.46L449.6 14.38L451.47 14.3L453.06 14.24L454.28 14.19L455.07 14.17L455.35 14.16" fill="none" stroke="#000" stroke-width="2.0" stroke-linejoin="round"/>
<path d="M453.25 15.43L455.35 11.63L457.45 15.43ZM448.85 15.55L450.95 11.75L453.05 15.55ZM444.45 15.68L446.55 11.88L448.65 15.68ZM440.05 15.82L442.15 12.02L444.25 15.82ZM435.66 16L437.76 12.2L439.86 16ZM431.26 16.23L433.36 12.43L435.46 16.23ZM426.87 16.49L428.97 12.69L431.07 16.49ZM422.48 16.8L424.58 13L426.68 16.8ZM418.09 17.16L420.19 13.36L422.29 17.16ZM413.7 17.57L415.8 13.77L417.9 17.57ZM409.32 18.01L411.42 14.21L413.52 18.01ZM404.96 18.62L407.06 14.82L409.16 18.62ZM400.63 19.49L402.73 15.69L404.83 19.49ZM396.35 20.61L398.45 16.81L400.55 20.61ZM392.18 22.17L394.28 18.37L396.38 22.17ZM388.23 24.31L390.33 20.51L392.43 24.31ZM384.54 26.97L386.64 23.17L388.74 26.97ZM381.2 30.15L383.3 26.35L385.4 30.15ZM378.09 33.61L380.19 29.81L382.29 33.61ZM375.17 37.26L377.27 33.46L379.37 37.26ZM372.37 41.04L374.47 37.24L376.57 41.04ZM369.7 44.92L371.8 41.12L373.9 44.92ZM367.11 48.88L369.21 45.08L371.31 48.88ZM364.55 52.85L366.65 49.05L368.75 52.85ZM362.09 56.9L364.19 53.1L366.29 56.9ZM359.87 61.12L361.97 57.32L364.07 61.12ZM357.86 65.47L359.96 61.67L362.06 65.47ZM355.95 69.88L358.05 66.08L360.15 69.88ZM354.07 74.29L356.17 70.49L358.27 74.29ZM352.24 78.74L354.34 74.94L356.44 78.74ZM350.44 83.2L352.54 79.4L354.64 83.2ZM348.66 87.67L350.76 83.87L352.86 87.67ZM346.85 92.13L348.95 88.33L351.05 92.13ZM345.04 96.59L347.14 92.79L349.24 96.59ZM343.2 101.03L345.3 97.23L347.4 101.03ZM341.37 105.47L343.47 101.67L345.57 105.47ZM339.36 109.82L341.46 106.02L343.56 109.82ZM337.07 113.99L339.17 110.19L341.27 113.99ZM334.52 117.98L336.62 114.18L338.72 117.98ZM331.59 121.62L333.69 117.82L335.79 121.62ZM328.32 124.89L330.42 121.09L332.52 124.89ZM324.71 127.67L326.81 123.87L328.91 127.67ZM320.72 129.72L322.82 125.92L324.92 129.72ZM316.57 131.35L318.67 127.55L320.77 131.35ZM312.31 132.57L314.41 128.77L316.51 132.57ZM307.98 133.4L310.08 129.6L312.18 133.4ZM303.61 133.99L305.71 130.19L307.81 133.99ZM299.23 134.47L301.33 130.67L303.43 134.47ZM294.85 134.88L296.95 131.08L299.05 134.88ZM290.46 135.26L292.56 131.46L294.66 135.26ZM286.07 135.57L288.17 131.77L290.27 135.57ZM281.67 135.82L283.77 132.02L285.87 135.82ZM277.28 136.02L279.38 132.22L281.48 136.02ZM272.88 136.21L274.98 132.41L277.08 136.21ZM268.95 136.79L271.05 132.99L273.15 136.79ZM273.35 136.67L275.45 132.87L277.55 136.67ZM277.75 136.54L279.85 132.74L281.95 136.54ZM282.15 136.4L284.25 132.6L286.35 136.4ZM286.54 136.22L288.64 132.42L290.74 136.22ZM290.94 135.99L293.04 132.19L295.14 135.99ZM295.33 135.73L297.43 131.93L299.53 135.73ZM299.72 135.42L301.82 131.62L303.92 135.42ZM304.11 135.06L306.21 131.26L308.31 135.06ZM308.5 134.65L310.6 130.85L312.7 134.65ZM312.88 134.21L314.98 130.41L317.08 134.21ZM317.24 133.6L319.34 129.8L321.44 133.6ZM321.57 132.73L323.67 128.93L325.77 132.73ZM325.85 131.61L327.95 127.81L330.05 131.61ZM330.02 130.05L332.12 126.25L334.22 130.05ZM333.97 127.91L336.07 124.11L338.17 127.91ZM337.66 125.25L339.76 121.45L341.86 125.25ZM341 122.07L343.1 118.27L345.2 122.07ZM344.11 118.61L346.21 114.81L348.31 118.61ZM347.03 114.96L349.13 111.16L351.23 114.96ZM349.83 111.18L351.93 107.38L354.03 111.18ZM352.5 107.3L354.6 103.5L356.7 107.3ZM355.09 103.34L357.19 99.54L359.29 103.34ZM357.65 99.37L359.75 95.57L361.85 99.37ZM360.11 95.32L362.21 91.52L364.31 95.32ZM362.33 91.1L364.43 87.3L366.53 91.1ZM364.34 86.75L366.44 82.95L368.54 86.75ZM366.25 82.34L368.35 78.54L370.45 82.34ZM368.13 77.93L370.23 74.13L372.33 77.93ZM369.96 73.48L372.06 69.68L374.16 73.48ZM371.76 69.02L373.86 65.22L375.96 69.02ZM373.54 64.55L375.64 60.75L377.74 64.55ZM375.35 60.09L377.45 56.29L379.55 60.09ZM377.16 55.63L379.26 51.83L381.36 55.63ZM379 51.19L381.1 47.39L383.2 51.19ZM380.83 46.75L382.93 42.95L385.03 46.75ZM382.84 42.4L384.94 38.6L387.04 42.4ZM385.13 38.23L387.23 34.43L389.33 38.23ZM387.68 34.24L389.78 30.44L391.88 34.24ZM390.61 30.6L392.71 26.8L394.81 30.6ZM393.88 27.33L395.98 23.53L398.08 27.33ZM397.49 24.55L399.59 20.75L401.69 24.55ZM401.48 22.5L403.58 18.7L405.68 22.5ZM405.63 20.87L407.73 17.07L409.83 20.87ZM409.89 19.65L411.99 15.85L414.09 19.65ZM414.22 18.82L416.32 15.02L418.42 18.82ZM418.59 18.23L420.69 14.43L422.79 18.23ZM422.97 17.75L425.07 13.95L427.17 17.75ZM427.35 17.34L429.45 13.54L431.55 17.34ZM431.74 16.96L433.84 13.16L435.94 16.96ZM436.13 16.65L438.23 12.85L440.33 16.65ZM440.53 16.4L442.63 12.6L444.73 16.4ZM444.92 16.2L447.02 12.4L449.12 16.2ZM449.32 16.01L451.42 12.21L453.52 16.01Z" fill="#000"/>
<rect x="271.05" y="0.4" width="184.3" height="148" fill="none" stroke="#000" stroke-width="1.3"/>
<path d="M271.05 148.4v-5.2M271.05 0.4v5.2M286.41 148.4v-3M286.41 0.4v3M301.77 148.4v-5.2M301.77 0.4v5.2M317.12 148.4v-3M317.12 0.4v3M332.48 148.4v-5.2M332.48 0.4v5.2M347.84 148.4v-3M347.84 0.4v3M363.2 148.4v-5.2M363.2 0.4v5.2M378.56 148.4v-3M378.56 0.4v3M393.92 148.4v-5.2M393.92 0.4v5.2M409.28 148.4v-3M409.28 0.4v3M424.63 148.4v-5.2M424.63 0.4v5.2M439.99 148.4v-3M439.99 0.4v3M455.35 148.4v-5.2M455.35 0.4v5.2M271.05 144.05h5.2M455.35 144.05h-5.2M271.05 126.64h3M455.35 126.64h-3M271.05 109.22h5.2M455.35 109.22h-5.2M271.05 91.81h3M455.35 91.81h-3M271.05 74.4h5.2M455.35 74.4h-5.2M271.05 56.99h3M455.35 56.99h-3M271.05 39.58h5.2M455.35 39.58h-5.2M271.05 22.16h3M455.35 22.16h-3M271.05 4.75h5.2M455.35 4.75h-5.2" stroke="#000" stroke-width="1.3" fill="none"/>
<text x="271.05" y="163" text-anchor="middle" font-size="11">-1.5</text>
<text x="301.77" y="163" text-anchor="middle" font-size="11">-1.0</text>
<text x="332.48" y="163" text-anchor="middle" font-size="11">-0.5</text>
<text x="363.2" y="163" text-anchor="middle" font-size="11">0.0</text>
<text x="393.92" y="163" text-anchor="middle" font-size="11">0.5</text>
<text x="424.63" y="163" text-anchor="middle" font-size="11">1.0</text>
<text x="455.35" y="163" text-anchor="middle" font-size="11">1.5</text>
<text x="264.75" y="147.65" text-anchor="end" font-size="11">-800</text>
<text x="264.75" y="112.82" text-anchor="end" font-size="11">-400</text>
<text x="264.75" y="78" text-anchor="end" font-size="11">0</text>
<text x="264.75" y="43.18" text-anchor="end" font-size="11">400</text>
<text x="264.75" y="8.35" text-anchor="end" font-size="11">800</text>
<text x="363.2" y="176.9" text-anchor="middle" font-size="11">Applied Magnetic Field <tspan font-style="italic">&#956;</tspan><tspan font-size="7.8" dy="2.6" dx="0.3">o</tspan><tspan dy="-2.6" font-style="italic">H</tspan> (T)</text>
<text transform="translate(239.45 72.9) rotate(-90)" text-anchor="middle" font-size="11">Magnetization (emu/cm<tspan font-size="7.5" dy="-4">3</tspan><tspan dy="4">)</tspan></text>
<text x="278.65" y="17.2" text-anchor="start" font-size="10.6">(b)</text>
<text x="278.85" y="28.6" text-anchor="start" font-size="11">550<tspan font-size="7.3" dy="-4" dx="1.1">o</tspan><tspan dy="4">C</tspan></text>
<path d="M500.05 74.4H684.35M592.2 0.4V148.4" stroke="#000" stroke-width="1.3" fill="none"/>
<path d="M684.35 20.86L683.96 20.86L682.86 20.87L681.16 20.89L678.97 20.91L676.39 20.94L673.54 20.97L670.52 21L667.45 21.04L664.42 21.08L661.55 21.12L658.94 21.16L656.71 21.21L655.18 21.24L653.72 21.27L652.3 21.3L650.92 21.33L649.58 21.37L648.25 21.4L646.93 21.44L645.61 21.48L644.28 21.53L642.93 21.59L641.54 21.66L640.12 21.73L638.49 21.82L636.84 21.92L635.16 22.03L633.45 22.15L631.74 22.27L630.01 22.4L628.29 22.54L626.56 22.68L624.85 22.83L623.16 22.98L621.49 23.14L619.85 23.3L618.32 23.45L616.8 23.62L615.26 23.8L613.74 23.98L612.22 24.17L610.71 24.35L609.23 24.54L607.77 24.73L606.35 24.91L604.96 25.08L603.63 25.24L602.34 25.39L601.39 25.49L600.46 25.57L599.56 25.65L598.68 25.72L597.81 25.79L596.96 25.86L596.13 25.93L595.32 26.01L594.52 26.09L593.73 26.19L592.96 26.3L592.2 26.43L591.57 26.55L590.96 26.67L590.35 26.8L589.76 26.94L589.17 27.08L588.59 27.23L588.03 27.39L587.47 27.55L586.93 27.71L586.4 27.89L585.89 28.07L585.38 28.26L584.97 28.42L584.56 28.58L584.15 28.75L583.76 28.92L583.37 29.1L582.99 29.28L582.63 29.47L582.27 29.66L581.92 29.86L581.59 30.07L581.27 30.29L580.96 30.52L580.7 30.73L580.44 30.95L580.2 31.18L579.97 31.41L579.75 31.64L579.53 31.89L579.33 32.14L579.13 32.39L578.93 32.65L578.74 32.92L578.56 33.2L578.38 33.48L578.19 33.8L578 34.12L577.83 34.45L577.66 34.79L577.5 35.14L577.35 35.49L577.2 35.86L577.06 36.23L576.92 36.62L576.79 37.01L576.66 37.42L576.53 37.84L576.38 38.39L576.24 38.97L576.11 39.56L575.98 40.16L575.87 40.78L575.77 41.43L575.67 42.08L575.57 42.76L575.49 43.46L575.4 44.18L575.32 44.91L575.24 45.67L575.15 46.79L575.07 47.98L575.01 49.24L574.97 50.54L574.93 51.89L574.91 53.26L574.88 54.64L574.86 56.02L574.83 57.4L574.79 58.75L574.75 60.07L574.69 61.34L574.63 62.47L574.56 63.57L574.48 64.66L574.4 65.74L574.32 66.81L574.23 67.87L574.15 68.93L574.06 70L573.98 71.08L573.91 72.17L573.83 73.27L573.77 74.4L573.71 75.67L573.66 76.97L573.61 78.31L573.58 79.66L573.54 81.02L573.51 82.39L573.47 83.74L573.44 85.08L573.39 86.39L573.34 87.67L573.29 88.9L573.22 90.07L573.16 90.95L573.11 91.81L573.07 92.65L573.03 93.46L572.98 94.26L572.93 95.05L572.86 95.83L572.79 96.59L572.7 97.36L572.59 98.12L572.45 98.88L572.3 99.65L572.11 100.4L571.91 101.15L571.69 101.89L571.44 102.63L571.19 103.37L570.91 104.1L570.63 104.82L570.35 105.54L570.05 106.25L569.75 106.96L569.46 107.66L569.16 108.35L568.88 109.01L568.6 109.66L568.3 110.31L568.01 110.95L567.71 111.59L567.4 112.22L567.09 112.85L566.77 113.46L566.46 114.07L566.13 114.67L565.81 115.26L565.48 115.84L565.17 116.36L564.87 116.88L564.56 117.39L564.25 117.9L563.94 118.4L563.62 118.9L563.3 119.38L562.97 119.85L562.64 120.31L562.3 120.75L561.96 121.18L561.61 121.59L561.3 121.93L561 122.28L560.7 122.61L560.4 122.93L560.09 123.25L559.78 123.55L559.46 123.84L559.12 124.12L558.76 124.38L558.39 124.63L557.98 124.86L557.55 125.07L556.94 125.32L556.31 125.53L555.66 125.7L554.98 125.83L554.27 125.95L553.52 126.04L552.73 126.11L551.89 126.18L551 126.24L550.05 126.31L549.04 126.38L547.97 126.46L544.95 126.65L541 126.82L536.32 126.97L531.16 127.1L525.75 127.2L520.31 127.29L515.08 127.36L510.28 127.42L506.15 127.46L502.92 127.49L500.81 127.5L500.05 127.51L500.44 127.94L501.54 127.93L503.24 127.91L505.43 127.89L508.01 127.86L510.86 127.83L513.88 127.8L516.95 127.76L519.98 127.72L522.85 127.68L525.46 127.64L527.7 127.59L529.22 127.56L530.68 127.53L532.1 127.5L533.48 127.47L534.82 127.43L536.15 127.4L537.47 127.36L538.79 127.32L540.12 127.27L541.47 127.21L542.86 127.14L544.28 127.07L545.91 126.98L547.56 126.88L549.24 126.77L550.95 126.65L552.66 126.53L554.39 126.4L556.11 126.26L557.84 126.12L559.55 125.97L561.24 125.82L562.91 125.66L564.56 125.5L566.08 125.35L567.6 125.18L569.14 125L570.66 124.82L572.18 124.63L573.69 124.45L575.17 124.26L576.63 124.07L578.05 123.89L579.44 123.72L580.77 123.56L582.06 123.41L583.01 123.31L583.94 123.23L584.84 123.15L585.72 123.08L586.59 123.01L587.44 122.94L588.27 122.87L589.08 122.79L589.88 122.71L590.67 122.61L591.44 122.5L592.2 122.37L592.83 122.25L593.44 122.13L594.05 122L594.64 121.86L595.23 121.72L595.81 121.57L596.37 121.41L596.93 121.25L597.47 121.09L598 120.91L598.51 120.73L599.02 120.54L599.43 120.38L599.84 120.22L600.25 120.05L600.64 119.88L601.03 119.7L601.41 119.52L601.77 119.33L602.13 119.14L602.48 118.94L602.81 118.73L603.13 118.51L603.44 118.28L603.7 118.07L603.96 117.85L604.2 117.62L604.43 117.39L604.65 117.16L604.87 116.91L605.07 116.66L605.27 116.41L605.47 116.15L605.66 115.88L605.84 115.6L606.02 115.32L606.21 115L606.4 114.68L606.57 114.35L606.74 114.01L606.9 113.66L607.05 113.31L607.2 112.94L607.34 112.57L607.48 112.18L607.61 111.79L607.74 111.38L607.87 110.96L608.02 110.41L608.16 109.83L608.29 109.24L608.42 108.64L608.53 108.02L608.63 107.37L608.73 106.72L608.83 106.04L608.91 105.34L609 104.62L609.08 103.89L609.16 103.13L609.25 102.01L609.33 100.82L609.39 99.56L609.43 98.26L609.47 96.91L609.49 95.54L609.52 94.16L609.54 92.78L609.57 91.4L609.61 90.05L609.65 88.73L609.71 87.46L609.77 86.33L609.84 85.23L609.92 84.14L610 83.06L610.08 81.99L610.17 80.93L610.25 79.87L610.34 78.8L610.42 77.72L610.49 76.63L610.57 75.53L610.63 74.4L610.69 73.13L610.74 71.83L610.79 70.49L610.82 69.14L610.86 67.78L610.89 66.41L610.93 65.06L610.96 63.72L611.01 62.41L611.06 61.13L611.11 59.9L611.18 58.73L611.24 57.85L611.29 56.99L611.33 56.15L611.37 55.34L611.42 54.54L611.47 53.75L611.54 52.97L611.61 52.21L611.7 51.44L611.81 50.68L611.95 49.92L612.1 49.15L612.29 48.4L612.49 47.65L612.71 46.91L612.96 46.17L613.21 45.43L613.49 44.7L613.77 43.98L614.05 43.26L614.35 42.55L614.65 41.84L614.94 41.14L615.24 40.45L615.52 39.79L615.8 39.14L616.1 38.49L616.39 37.85L616.69 37.21L617 36.58L617.31 35.95L617.63 35.34L617.94 34.73L618.27 34.13L618.59 33.54L618.92 32.96L619.23 32.44L619.53 31.92L619.84 31.41L620.15 30.9L620.46 30.4L620.78 29.9L621.1 29.42L621.43 28.95L621.76 28.49L622.1 28.05L622.44 27.62L622.79 27.21L623.1 26.87L623.4 26.52L623.7 26.19L624 25.87L624.31 25.55L624.62 25.25L624.94 24.96L625.28 24.68L625.64 24.42L626.01 24.17L626.42 23.94L626.85 23.73L627.46 23.48L628.09 23.27L628.74 23.1L629.42 22.97L630.13 22.85L630.88 22.76L631.67 22.69L632.51 22.62L633.4 22.56L634.35 22.49L635.36 22.42L636.43 22.34L639.45 22.15L643.4 21.98L648.08 21.83L653.24 21.7L658.65 21.6L664.09 21.51L669.32 21.44L674.12 21.38L678.25 21.34L681.48 21.31L683.59 21.3L684.35 21.29" fill="none" stroke="#909090" stroke-width="1.9" stroke-linejoin="round"/>
<path d="M682.64 18.76L686.44 20.86L682.64 22.96ZM679.54 18.79L683.34 20.89L679.54 22.99ZM676.44 18.82L680.24 20.92L676.44 23.02ZM673.34 18.85L677.14 20.95L673.34 23.05ZM670.24 18.88L674.04 20.98L670.24 23.08ZM667.14 18.92L670.94 21.02L667.14 23.12ZM664.04 18.96L667.84 21.06L664.04 23.16ZM660.94 19L664.74 21.1L660.94 23.2ZM657.84 19.05L661.64 21.15L657.84 23.25ZM654.74 19.11L658.54 21.21L654.74 23.31ZM651.64 19.18L655.44 21.28L651.64 23.38ZM648.54 19.25L652.34 21.35L648.54 23.45ZM645.44 19.33L649.24 21.43L645.44 23.53ZM642.34 19.44L646.14 21.54L642.34 23.64ZM639.24 19.59L643.04 21.69L639.24 23.79ZM636.14 19.76L639.94 21.86L636.14 23.96ZM633.04 19.96L636.84 22.06L633.04 24.16ZM629.94 20.18L633.74 22.28L629.94 24.38ZM626.84 20.42L630.64 22.52L626.84 24.62ZM623.74 20.68L627.54 22.78L623.74 24.88ZM620.65 20.96L624.45 23.06L620.65 25.16ZM617.55 21.26L621.35 23.36L617.55 25.46ZM614.45 21.59L618.25 23.69L614.45 25.79ZM611.35 21.96L615.15 24.06L611.35 26.16ZM608.25 22.35L612.05 24.45L608.25 26.55ZM605.15 22.74L608.95 24.84L605.15 26.94ZM602.06 23.12L605.86 25.22L602.06 27.32ZM598.96 23.45L602.76 25.55L598.96 27.65ZM595.86 23.71L599.66 25.81L595.86 27.91ZM592.76 24L596.56 26.1L592.76 28.2ZM589.66 24.49L593.46 26.59L589.66 28.69ZM586.57 25.22L590.37 27.32L586.57 29.42ZM583.49 26.23L587.29 28.33L583.49 30.43ZM580.42 27.64L584.22 29.74L580.42 31.84ZM577.43 30.28L581.23 32.38L577.43 34.48ZM574.82 35.74L578.62 37.84L574.82 39.94ZM573.43 44.84L577.23 46.94L573.43 49.04ZM573.12 55.11L576.92 57.21L573.12 59.31ZM572.56 65.26L576.36 67.36L572.56 69.46ZM571.93 75.36L575.73 77.46L571.93 79.56ZM571.63 85.65L575.43 87.75L571.63 89.85ZM570.93 95.68L574.73 97.78L570.93 99.88ZM568.79 103.04L572.59 105.14L568.79 107.24ZM566.25 108.95L570.05 111.05L566.25 113.15ZM563.56 114.09L567.36 116.19L563.56 118.29ZM560.75 118.44L564.55 120.54L560.75 122.64ZM557.81 121.68L561.61 123.78L557.81 125.88ZM554.76 123.38L558.56 125.48L554.76 127.58ZM551.66 123.95L555.46 126.05L551.66 128.15ZM548.56 124.19L552.36 126.29L548.56 128.39ZM545.46 124.41L549.26 126.51L545.46 128.61ZM542.36 124.59L546.16 126.69L542.36 128.79ZM539.26 124.72L543.06 126.82L539.26 128.92ZM536.16 124.82L539.96 126.92L536.16 129.02ZM533.06 124.91L536.86 127.01L533.06 129.11ZM529.96 124.98L533.76 127.08L529.96 129.18ZM526.86 125.05L530.66 127.15L526.86 129.25ZM523.76 125.11L527.56 127.21L523.76 129.31ZM520.66 125.16L524.46 127.26L520.66 129.36ZM517.57 125.21L521.37 127.31L517.57 129.41ZM514.47 125.25L518.27 127.35L514.47 129.45ZM511.37 125.29L515.17 127.39L511.37 129.49ZM508.27 125.32L512.07 127.42L508.27 129.52ZM505.17 125.35L508.97 127.45L505.17 129.55ZM502.07 125.38L505.87 127.48L502.07 129.58ZM498.97 125.4L502.77 127.5L498.97 129.6ZM498.34 125.84L502.14 127.94L498.34 130.04ZM501.44 125.81L505.24 127.91L501.44 130.01ZM504.54 125.78L508.34 127.88L504.54 129.98ZM507.64 125.75L511.44 127.85L507.64 129.95ZM510.74 125.72L514.54 127.82L510.74 129.92ZM513.84 125.68L517.64 127.78L513.84 129.88ZM516.94 125.64L520.74 127.74L516.94 129.84ZM520.04 125.6L523.84 127.7L520.04 129.8ZM523.14 125.55L526.94 127.65L523.14 129.75ZM526.24 125.49L530.04 127.59L526.24 129.69ZM529.34 125.42L533.14 127.52L529.34 129.62ZM532.44 125.35L536.24 127.45L532.44 129.55ZM535.54 125.27L539.34 127.37L535.54 129.47ZM538.64 125.16L542.44 127.26L538.64 129.36ZM541.74 125.01L545.54 127.11L541.74 129.21ZM544.84 124.84L548.64 126.94L544.84 129.04ZM547.94 124.64L551.74 126.74L547.94 128.84ZM551.04 124.42L554.84 126.52L551.04 128.62ZM554.14 124.18L557.94 126.28L554.14 128.38ZM557.24 123.92L561.04 126.02L557.24 128.12ZM560.33 123.64L564.13 125.74L560.33 127.84ZM563.43 123.34L567.23 125.44L563.43 127.54ZM566.53 123.01L570.33 125.11L566.53 127.21ZM569.63 122.64L573.43 124.74L569.63 126.84ZM572.73 122.25L576.53 124.35L572.73 126.45ZM575.83 121.86L579.63 123.96L575.83 126.06ZM578.92 121.48L582.72 123.58L578.92 125.68ZM582.02 121.15L585.82 123.25L582.02 125.35ZM585.12 120.89L588.92 122.99L585.12 125.09ZM588.22 120.6L592.02 122.7L588.22 124.8ZM591.32 120.11L595.12 122.21L591.32 124.31ZM594.41 119.38L598.21 121.48L594.41 123.58ZM597.49 118.37L601.29 120.47L597.49 122.57ZM600.56 116.96L604.36 119.06L600.56 121.16ZM603.55 114.32L607.35 116.42L603.55 118.52ZM606.16 108.86L609.96 110.96L606.16 113.06ZM607.55 99.76L611.35 101.86L607.55 103.96ZM607.86 89.49L611.66 91.59L607.86 93.69ZM608.42 79.34L612.22 81.44L608.42 83.54ZM609.05 69.24L612.85 71.34L609.05 73.44ZM609.35 58.95L613.15 61.05L609.35 63.15ZM610.05 48.92L613.85 51.02L610.05 53.12ZM612.19 41.56L615.99 43.66L612.19 45.76ZM614.73 35.65L618.53 37.75L614.73 39.85ZM617.42 30.51L621.22 32.61L617.42 34.71ZM620.23 26.16L624.03 28.26L620.23 30.36ZM623.17 22.92L626.97 25.02L623.17 27.12ZM626.22 21.22L630.02 23.32L626.22 25.42ZM629.32 20.65L633.12 22.75L629.32 24.85ZM632.42 20.41L636.22 22.51L632.42 24.61ZM635.52 20.19L639.32 22.29L635.52 24.39ZM638.62 20.01L642.42 22.11L638.62 24.21ZM641.72 19.88L645.52 21.98L641.72 24.08ZM644.82 19.78L648.62 21.88L644.82 23.98ZM647.92 19.69L651.72 21.79L647.92 23.89ZM651.02 19.62L654.82 21.72L651.02 23.82ZM654.12 19.55L657.92 21.65L654.12 23.75ZM657.22 19.49L661.02 21.59L657.22 23.69ZM660.32 19.44L664.12 21.54L660.32 23.64ZM663.41 19.39L667.21 21.49L663.41 23.59ZM666.51 19.35L670.31 21.45L666.51 23.55ZM669.61 19.31L673.41 21.41L669.61 23.51ZM672.71 19.28L676.51 21.38L672.71 23.48ZM675.81 19.25L679.61 21.35L675.81 23.45ZM678.91 19.22L682.71 21.32L678.91 23.42ZM682.01 19.2L685.81 21.3L682.01 23.4Z" fill="#888"/>
<path d="M684.35 18.25L683.97 18.25L682.89 18.26L681.23 18.27L679.07 18.28L676.53 18.3L673.71 18.32L670.72 18.35L667.65 18.37L664.61 18.4L661.7 18.44L659.03 18.47L656.71 18.51L654.9 18.54L653.14 18.57L651.4 18.59L649.69 18.62L647.99 18.65L646.32 18.68L644.66 18.72L643.01 18.76L641.37 18.81L639.73 18.88L638.08 18.95L636.43 19.03L634.83 19.12L633.23 19.22L631.64 19.34L630.04 19.45L628.45 19.58L626.87 19.71L625.3 19.85L623.73 19.99L622.19 20.14L620.65 20.29L619.13 20.44L617.63 20.6L616.28 20.73L614.92 20.85L613.56 20.95L612.2 21.06L610.86 21.17L609.53 21.29L608.23 21.42L606.94 21.57L605.69 21.75L604.47 21.97L603.29 22.22L602.15 22.51L601.23 22.79L600.32 23.11L599.41 23.45L598.52 23.82L597.65 24.21L596.8 24.61L595.98 25.01L595.2 25.42L594.47 25.82L593.78 26.21L593.14 26.59L592.57 26.95L592.27 27.15L591.99 27.34L591.74 27.53L591.51 27.72L591.29 27.9L591.09 28.08L590.88 28.27L590.68 28.46L590.48 28.65L590.27 28.86L590.05 29.08L589.8 29.3L589.46 29.63L589.1 29.97L588.72 30.34L588.34 30.72L587.95 31.12L587.55 31.52L587.16 31.92L586.78 32.32L586.4 32.72L586.04 33.1L585.7 33.48L585.38 33.83L585.15 34.09L584.92 34.34L584.7 34.59L584.49 34.82L584.28 35.06L584.08 35.29L583.89 35.53L583.7 35.76L583.52 36.01L583.34 36.26L583.16 36.52L582.99 36.79L582.8 37.1L582.63 37.4L582.46 37.72L582.3 38.04L582.15 38.36L582 38.69L581.85 39.03L581.71 39.38L581.57 39.74L581.43 40.11L581.28 40.49L581.14 40.88L580.95 41.42L580.77 41.98L580.58 42.57L580.39 43.17L580.21 43.8L580.03 44.43L579.86 45.07L579.69 45.72L579.53 46.37L579.38 47.02L579.24 47.65L579.11 48.28L579 48.89L578.91 49.49L578.82 50.09L578.75 50.68L578.69 51.27L578.62 51.87L578.57 52.48L578.51 53.09L578.44 53.71L578.37 54.35L578.29 55.01L578.19 55.68L578.06 56.58L577.91 57.51L577.74 58.49L577.57 59.49L577.39 60.51L577.21 61.54L577.02 62.57L576.84 63.59L576.66 64.6L576.49 65.58L576.32 66.53L576.17 67.44L576.05 68.14L575.93 68.81L575.82 69.46L575.7 70.1L575.59 70.72L575.49 71.34L575.38 71.96L575.28 72.59L575.17 73.22L575.07 73.88L574.97 74.56L574.88 75.27L574.76 76.2L574.65 77.17L574.55 78.18L574.46 79.21L574.36 80.26L574.27 81.33L574.17 82.39L574.07 83.45L573.97 84.5L573.85 85.52L573.73 86.51L573.59 87.46L573.46 88.24L573.32 89.01L573.18 89.77L573.04 90.51L572.89 91.25L572.73 91.97L572.58 92.69L572.41 93.4L572.25 94.1L572.08 94.79L571.91 95.48L571.74 96.16L571.59 96.77L571.44 97.37L571.29 97.96L571.15 98.54L570.99 99.12L570.84 99.69L570.68 100.26L570.51 100.83L570.33 101.4L570.14 101.97L569.94 102.55L569.72 103.13L569.45 103.78L569.17 104.42L568.87 105.07L568.55 105.73L568.22 106.38L567.89 107.03L567.54 107.69L567.2 108.35L566.85 109L566.51 109.66L566.17 110.31L565.85 110.96L565.52 111.62L565.19 112.28L564.87 112.95L564.54 113.62L564.21 114.29L563.88 114.95L563.55 115.61L563.23 116.27L562.91 116.92L562.59 117.56L562.28 118.19L561.97 118.8L561.72 119.33L561.47 119.87L561.23 120.41L561 120.95L560.76 121.48L560.53 122L560.3 122.51L560.06 123L559.81 123.47L559.56 123.92L559.3 124.34L559.03 124.72L558.82 124.99L558.61 125.24L558.41 125.48L558.21 125.7L558 125.92L557.78 126.12L557.56 126.31L557.33 126.5L557.09 126.67L556.83 126.84L556.55 127L556.26 127.16L555.85 127.35L555.41 127.52L554.96 127.67L554.49 127.8L554 127.92L553.48 128.02L552.94 128.12L552.37 128.21L551.78 128.29L551.15 128.37L550.5 128.46L549.81 128.55L548.44 128.71L546.92 128.85L545.28 128.98L543.52 129.09L541.67 129.19L539.74 129.28L537.76 129.35L535.74 129.43L533.71 129.49L531.68 129.56L529.67 129.62L527.7 129.68L525.32 129.75L522.63 129.82L519.71 129.87L516.66 129.92L513.6 129.97L510.61 130.01L507.81 130.04L505.28 130.07L503.15 130.09L501.49 130.11L500.43 130.11L500.05 130.12L500.43 130.55L501.51 130.54L503.17 130.53L505.33 130.52L507.87 130.5L510.69 130.48L513.68 130.45L516.75 130.43L519.79 130.4L522.7 130.36L525.37 130.33L527.7 130.29L529.5 130.26L531.26 130.23L533 130.21L534.71 130.18L536.41 130.15L538.08 130.12L539.74 130.08L541.39 130.04L543.03 129.99L544.67 129.92L546.32 129.85L547.97 129.77L549.57 129.68L551.17 129.58L552.76 129.46L554.36 129.35L555.95 129.22L557.53 129.09L559.1 128.95L560.67 128.81L562.21 128.66L563.75 128.51L565.27 128.36L566.77 128.2L568.12 128.07L569.48 127.95L570.84 127.85L572.2 127.74L573.54 127.63L574.87 127.51L576.17 127.38L577.46 127.23L578.71 127.05L579.93 126.83L581.11 126.58L582.25 126.29L583.17 126.01L584.08 125.69L584.99 125.35L585.88 124.98L586.75 124.59L587.6 124.19L588.42 123.79L589.2 123.38L589.93 122.98L590.62 122.59L591.26 122.21L591.83 121.85L592.13 121.65L592.41 121.46L592.66 121.27L592.89 121.08L593.11 120.9L593.31 120.72L593.52 120.53L593.72 120.34L593.92 120.15L594.13 119.94L594.35 119.72L594.6 119.5L594.94 119.17L595.3 118.83L595.68 118.46L596.06 118.08L596.45 117.68L596.85 117.28L597.24 116.88L597.62 116.48L598 116.08L598.36 115.7L598.7 115.32L599.02 114.97L599.25 114.71L599.48 114.46L599.7 114.21L599.91 113.98L600.12 113.74L600.32 113.51L600.51 113.27L600.7 113.04L600.88 112.79L601.06 112.54L601.24 112.28L601.41 112.01L601.6 111.7L601.77 111.4L601.94 111.08L602.1 110.76L602.25 110.44L602.4 110.11L602.55 109.77L602.69 109.42L602.83 109.06L602.97 108.69L603.12 108.31L603.26 107.92L603.45 107.38L603.63 106.82L603.82 106.23L604.01 105.63L604.19 105L604.37 104.37L604.54 103.73L604.71 103.08L604.87 102.43L605.02 101.78L605.16 101.15L605.29 100.52L605.4 99.91L605.49 99.31L605.58 98.71L605.65 98.12L605.71 97.53L605.78 96.93L605.83 96.32L605.89 95.71L605.96 95.09L606.03 94.45L606.11 93.79L606.21 93.12L606.34 92.22L606.49 91.29L606.66 90.31L606.83 89.31L607.01 88.29L607.19 87.26L607.38 86.23L607.56 85.21L607.74 84.2L607.91 83.22L608.08 82.27L608.23 81.36L608.35 80.66L608.47 79.99L608.58 79.34L608.7 78.7L608.81 78.08L608.91 77.46L609.02 76.84L609.12 76.21L609.23 75.58L609.33 74.92L609.43 74.24L609.52 73.53L609.64 72.6L609.75 71.63L609.85 70.62L609.94 69.59L610.04 68.54L610.13 67.47L610.23 66.41L610.33 65.35L610.43 64.3L610.55 63.28L610.67 62.29L610.81 61.34L610.94 60.56L611.08 59.79L611.22 59.03L611.36 58.29L611.51 57.55L611.67 56.83L611.82 56.11L611.99 55.4L612.15 54.7L612.32 54.01L612.49 53.32L612.66 52.64L612.81 52.03L612.96 51.43L613.11 50.84L613.25 50.26L613.41 49.68L613.56 49.11L613.72 48.54L613.89 47.97L614.07 47.4L614.26 46.83L614.46 46.25L614.68 45.67L614.95 45.02L615.23 44.38L615.53 43.73L615.85 43.07L616.18 42.42L616.51 41.77L616.86 41.11L617.2 40.45L617.55 39.8L617.89 39.14L618.23 38.49L618.55 37.84L618.88 37.18L619.21 36.52L619.53 35.85L619.86 35.18L620.19 34.51L620.52 33.85L620.85 33.19L621.17 32.53L621.49 31.88L621.81 31.24L622.12 30.61L622.43 30L622.68 29.47L622.93 28.93L623.17 28.39L623.4 27.85L623.64 27.32L623.87 26.8L624.1 26.29L624.34 25.8L624.59 25.33L624.84 24.88L625.1 24.46L625.37 24.08L625.58 23.81L625.79 23.56L625.99 23.32L626.19 23.1L626.4 22.88L626.62 22.68L626.84 22.49L627.07 22.3L627.31 22.13L627.57 21.96L627.85 21.8L628.14 21.64L628.55 21.45L628.99 21.28L629.44 21.13L629.91 21L630.4 20.88L630.92 20.78L631.46 20.68L632.03 20.59L632.62 20.51L633.25 20.43L633.9 20.34L634.59 20.25L635.96 20.09L637.48 19.95L639.12 19.82L640.88 19.71L642.73 19.61L644.66 19.52L646.64 19.45L648.66 19.37L650.69 19.31L652.72 19.24L654.73 19.18L656.71 19.12L659.08 19.05L661.77 18.98L664.69 18.93L667.74 18.88L670.8 18.83L673.79 18.79L676.59 18.76L679.12 18.73L681.25 18.71L682.91 18.69L683.97 18.69L684.35 18.68" fill="none" stroke="#000" stroke-width="2.0" stroke-linejoin="round"/>
<path d="M682.25 19.96L684.35 16.16L686.45 19.96ZM679.15 19.98L681.25 16.18L683.35 19.98ZM676.05 20L678.15 16.2L680.25 20ZM672.95 20.02L675.05 16.22L677.15 20.02ZM669.85 20.05L671.95 16.25L674.05 20.05ZM666.75 20.07L668.85 16.27L670.95 20.07ZM663.65 20.1L665.75 16.3L667.85 20.1ZM660.55 20.14L662.65 16.34L664.75 20.14ZM657.45 20.17L659.55 16.37L661.65 20.17ZM654.35 20.22L656.45 16.42L658.55 20.22ZM651.25 20.27L653.35 16.47L655.45 20.27ZM648.15 20.32L650.25 16.52L652.35 20.32ZM645.05 20.38L647.15 16.58L649.25 20.38ZM641.95 20.45L644.05 16.65L646.15 20.45ZM638.85 20.54L640.95 16.74L643.05 20.54ZM635.75 20.67L637.85 16.87L639.95 20.67ZM632.65 20.84L634.75 17.04L636.85 20.84ZM629.55 21.04L631.65 17.24L633.75 21.04ZM626.45 21.28L628.55 17.48L630.65 21.28ZM623.35 21.55L625.45 17.75L627.55 21.55ZM620.25 21.84L622.35 18.04L624.45 21.84ZM617.16 22.14L619.26 18.34L621.36 22.14ZM614.06 22.45L616.16 18.65L618.26 22.45ZM610.96 22.7L613.06 18.9L615.16 22.7ZM607.86 22.96L609.96 19.16L612.06 22.96ZM604.76 23.3L606.86 19.5L608.96 23.3ZM601.67 23.83L603.77 20.03L605.87 23.83ZM598.58 24.7L600.68 20.9L602.78 24.7ZM595.5 25.94L597.6 22.14L599.7 25.94ZM592.43 27.49L594.53 23.69L596.63 27.49ZM589.39 29.44L591.49 25.64L593.59 29.44ZM586.41 32.26L588.51 28.46L590.61 32.26ZM583.45 35.35L585.55 31.55L587.65 35.35ZM580.56 39.06L582.66 35.26L584.76 39.06ZM578.13 45.42L580.23 41.62L582.33 45.42ZM576.48 54.03L578.58 50.23L580.68 54.03ZM575.11 63.26L577.21 59.46L579.31 63.26ZM573.54 72.17L575.64 68.37L577.74 72.17ZM572.29 81.6L574.39 77.8L576.49 81.6ZM571.14 91.15L573.24 87.35L575.34 91.15ZM569.27 99.37L571.37 95.57L573.47 99.37ZM566.99 106.3L569.09 102.5L571.19 106.3ZM564.32 111.54L566.42 107.74L568.52 111.54ZM561.67 116.89L563.77 113.09L565.87 116.89ZM559.03 122.34L561.13 118.54L563.23 122.34ZM556.31 127.18L558.41 123.38L560.51 127.18ZM553.28 129.24L555.38 125.44L557.48 129.24ZM550.19 129.93L552.29 126.13L554.39 129.93ZM547.09 130.33L549.19 126.53L551.29 130.33ZM543.99 130.63L546.09 126.83L548.19 130.63ZM540.89 130.83L542.99 127.03L545.09 130.83ZM537.79 130.98L539.89 127.18L541.99 130.98ZM534.69 131.1L536.79 127.3L538.89 131.1ZM531.59 131.2L533.69 127.4L535.79 131.2ZM528.49 131.3L530.59 127.5L532.69 131.3ZM525.39 131.4L527.49 127.6L529.59 131.4ZM522.29 131.48L524.39 127.68L526.49 131.48ZM519.19 131.55L521.29 127.75L523.39 131.55ZM516.09 131.61L518.19 127.81L520.29 131.61ZM512.99 131.66L515.09 127.86L517.19 131.66ZM509.89 131.7L511.99 127.9L514.09 131.7ZM506.79 131.74L508.89 127.94L510.99 131.74ZM503.69 131.77L505.79 127.97L507.89 131.77ZM500.59 131.8L502.69 128L504.79 131.8ZM497.95 132.26L500.05 128.46L502.15 132.26ZM501.05 132.24L503.15 128.44L505.25 132.24ZM504.15 132.22L506.25 128.42L508.35 132.22ZM507.25 132.2L509.35 128.4L511.45 132.2ZM510.35 132.17L512.45 128.37L514.55 132.17ZM513.45 132.15L515.55 128.35L517.65 132.15ZM516.55 132.12L518.65 128.32L520.75 132.12ZM519.65 132.08L521.75 128.28L523.85 132.08ZM522.75 132.05L524.85 128.25L526.95 132.05ZM525.85 132L527.95 128.2L530.05 132ZM528.95 131.95L531.05 128.15L533.15 131.95ZM532.05 131.9L534.15 128.1L536.25 131.9ZM535.15 131.84L537.25 128.04L539.35 131.84ZM538.25 131.77L540.35 127.97L542.45 131.77ZM541.35 131.68L543.45 127.88L545.55 131.68ZM544.45 131.55L546.55 127.75L548.65 131.55ZM547.55 131.38L549.65 127.58L551.75 131.38ZM550.65 131.18L552.75 127.38L554.85 131.18ZM553.75 130.94L555.85 127.14L557.95 130.94ZM556.85 130.67L558.95 126.87L561.05 130.67ZM559.95 130.38L562.05 126.58L564.15 130.38ZM563.04 130.08L565.14 126.28L567.24 130.08ZM566.14 129.77L568.24 125.97L570.34 129.77ZM569.24 129.52L571.34 125.72L573.44 129.52ZM572.34 129.26L574.44 125.46L576.54 129.26ZM575.44 128.92L577.54 125.12L579.64 128.92ZM578.53 128.39L580.63 124.59L582.73 128.39ZM581.62 127.52L583.72 123.72L585.82 127.52ZM584.7 126.28L586.8 122.48L588.9 126.28ZM587.77 124.73L589.87 120.93L591.97 124.73ZM590.81 122.78L592.91 118.98L595.01 122.78ZM593.79 119.96L595.89 116.16L597.99 119.96ZM596.75 116.87L598.85 113.07L600.95 116.87ZM599.64 113.16L601.74 109.36L603.84 113.16ZM602.07 106.8L604.17 103L606.27 106.8ZM603.72 98.19L605.82 94.39L607.92 98.19ZM605.09 88.96L607.19 85.16L609.29 88.96ZM606.66 80.05L608.76 76.25L610.86 80.05ZM607.91 70.62L610.01 66.82L612.11 70.62ZM609.06 61.07L611.16 57.27L613.26 61.07ZM610.93 52.85L613.03 49.05L615.13 52.85ZM613.21 45.92L615.31 42.12L617.41 45.92ZM615.88 40.68L617.98 36.88L620.08 40.68ZM618.53 35.33L620.63 31.53L622.73 35.33ZM621.17 29.88L623.27 26.08L625.37 29.88ZM623.89 25.04L625.99 21.24L628.09 25.04ZM626.92 22.98L629.02 19.18L631.12 22.98ZM630.01 22.29L632.11 18.49L634.21 22.29ZM633.11 21.89L635.21 18.09L637.31 21.89ZM636.21 21.59L638.31 17.79L640.41 21.59ZM639.31 21.39L641.41 17.59L643.51 21.39ZM642.41 21.24L644.51 17.44L646.61 21.24ZM645.51 21.12L647.61 17.32L649.71 21.12ZM648.61 21.02L650.71 17.22L652.81 21.02ZM651.71 20.92L653.81 17.12L655.91 20.92ZM654.81 20.82L656.91 17.02L659.01 20.82ZM657.91 20.74L660.01 16.94L662.11 20.74ZM661.01 20.67L663.11 16.87L665.21 20.67ZM664.11 20.61L666.21 16.81L668.31 20.61ZM667.21 20.56L669.31 16.76L671.41 20.56ZM670.31 20.52L672.41 16.72L674.51 20.52ZM673.41 20.48L675.51 16.68L677.61 20.48ZM676.51 20.45L678.61 16.65L680.71 20.45ZM679.61 20.42L681.71 16.62L683.81 20.42Z" fill="#000"/>
<rect x="500.05" y="0.4" width="184.3" height="148" fill="none" stroke="#000" stroke-width="1.3"/>
<path d="M500.05 148.4v-3M500.05 0.4v3M518.48 148.4v-5.2M518.48 0.4v5.2M536.91 148.4v-3M536.91 0.4v3M555.34 148.4v-5.2M555.34 0.4v5.2M573.77 148.4v-3M573.77 0.4v3M592.2 148.4v-5.2M592.2 0.4v5.2M610.63 148.4v-3M610.63 0.4v3M629.06 148.4v-5.2M629.06 0.4v5.2M647.49 148.4v-3M647.49 0.4v3M665.92 148.4v-5.2M665.92 0.4v5.2M684.35 148.4v-3M684.35 0.4v3M500.05 144.05h5.2M684.35 144.05h-5.2M500.05 126.64h3M684.35 126.64h-3M500.05 109.22h5.2M684.35 109.22h-5.2M500.05 91.81h3M684.35 91.81h-3M500.05 74.4h5.2M684.35 74.4h-5.2M500.05 56.99h3M684.35 56.99h-3M500.05 39.58h5.2M684.35 39.58h-5.2M500.05 22.16h3M684.35 22.16h-3M500.05 4.75h5.2M684.35 4.75h-5.2" stroke="#000" stroke-width="1.3" fill="none"/>
<text x="518.48" y="163" text-anchor="middle" font-size="11">-4</text>
<text x="555.34" y="163" text-anchor="middle" font-size="11">-2</text>
<text x="592.2" y="163" text-anchor="middle" font-size="11">0</text>
<text x="629.06" y="163" text-anchor="middle" font-size="11">2</text>
<text x="665.92" y="163" text-anchor="middle" font-size="11">4</text>
<text x="493.75" y="147.65" text-anchor="end" font-size="11">-800</text>
<text x="493.75" y="112.82" text-anchor="end" font-size="11">-400</text>
<text x="493.75" y="78" text-anchor="end" font-size="11">0</text>
<text x="493.75" y="43.18" text-anchor="end" font-size="11">400</text>
<text x="493.75" y="8.35" text-anchor="end" font-size="11">800</text>
<text x="592.2" y="176.9" text-anchor="middle" font-size="11">Applied Magnetic Field <tspan font-style="italic">&#956;</tspan><tspan font-size="7.8" dy="2.6" dx="0.3">o</tspan><tspan dy="-2.6" font-style="italic">H</tspan> (T)</text>
<text transform="translate(469.15 73.9) rotate(-90)" text-anchor="middle" font-size="11">Magnetization (emu/cm<tspan font-size="7.5" dy="-4">3</tspan><tspan dy="4">)</tspan></text>
<text x="508.55" y="17.2" text-anchor="start" font-size="10.6">(c)</text>
<text x="508.75" y="28.6" text-anchor="start" font-size="11">800<tspan font-size="7.3" dy="-4" dx="1.1">o</tspan><tspan dy="4">C</tspan></text>
<path d="M46.92 209.35V232.99M45.42 209.35h3M45.42 232.99h3M82.76 224.42V246.29M81.26 224.42h3M81.26 246.29h3M92.99 205.81V228.27M91.49 205.81h3M91.49 228.27h3M103.23 224.42V246.29M101.73 224.42h3M101.73 246.29h3M113.47 223.54V246M111.97 223.54h3M111.97 246h3M123.71 217.63V240.09M122.21 217.63h3M122.21 240.09h3M133.95 226.49V248.95M132.45 226.49h3M132.45 248.95h3M154.43 247.47V268.16M152.93 247.47h3M152.93 268.16h3M174.91 298.89V315.44M173.41 298.89h3M173.41 315.44h3M195.38 266.98V288.25M193.88 266.98h3M193.88 288.25h3M205.62 262.25V281.16M204.12 262.25h3M204.12 281.16h3M215.86 288.55V300.96M214.36 288.55h3M214.36 300.96h3" stroke="#d2d2d2" stroke-width="1.1" fill="none"/>
<path d="M46.92 213.79V239.79M45.42 213.79h3M45.42 239.79h3M82.76 211.42V235.06M81.26 211.42h3M81.26 235.06h3M92.99 232.11V253.97M91.49 232.11h3M91.49 253.97h3M103.23 219.99V241.86M101.73 219.99h3M101.73 241.86h3M113.47 207.58V231.22M111.97 207.58h3M111.97 231.22h3M123.71 251.31V271.41M122.21 251.31h3M122.21 271.41h3M133.95 193.4V218.81M132.45 193.4h3M132.45 218.81h3M154.43 258.7V279.39M152.93 258.7h3M152.93 279.39h3M174.91 256.04V275.55M173.41 256.04h3M173.41 275.55h3M195.38 262.54V280.87M193.88 262.54h3M193.88 280.87h3M205.62 272V289.73M204.12 272h3M204.12 289.73h3M215.86 281.16V300.07M214.36 281.16h3M214.36 300.07h3" stroke="#a8a8a8" stroke-width="1.1" fill="none"/>
<path d="M44.62 228.59L46.92 224.59L49.22 228.59ZM80.46 225.04L82.76 221.04L85.06 225.04ZM90.69 244.84L92.99 240.84L95.29 244.84ZM100.93 232.73L103.23 228.73L105.53 232.73ZM111.17 221.2L113.47 217.2L115.77 221.2ZM121.41 263.16L123.71 259.16L126.01 263.16ZM131.65 207.9L133.95 203.9L136.25 207.9ZM152.13 270.85L154.43 266.85L156.73 270.85ZM172.61 267.59L174.91 263.59L177.21 267.59ZM193.08 273.5L195.38 269.5L197.68 273.5ZM203.32 282.67L205.62 278.67L207.92 282.67ZM213.56 292.42L215.86 288.42L218.16 292.42Z" fill="#000"/>
<path d="M45.03 219.02L49.23 221.17L45.03 223.32ZM80.87 233.21L85.07 235.36L80.87 237.51ZM91.1 214.89L95.3 217.04L91.1 219.19ZM101.34 233.21L105.54 235.36L101.34 237.51ZM111.58 232.62L115.78 234.77L111.58 236.92ZM121.82 226.71L126.02 228.86L121.82 231.01ZM132.06 235.57L136.26 237.72L132.06 239.87ZM152.54 255.67L156.74 257.82L152.54 259.97ZM173.02 305.01L177.22 307.16L173.02 309.31ZM193.49 275.46L197.69 277.61L193.49 279.76ZM203.73 269.55L207.93 271.7L203.73 273.85ZM213.97 292.6L218.17 294.75L213.97 296.9Z" fill="#828282"/>
<rect x="41.8" y="183.35" width="184.3" height="147.75" fill="none" stroke="#000" stroke-width="1.3"/>
<path d="M41.8 331.1v-5.2M41.8 183.35v5.2M62.28 331.1v-3M62.28 183.35v3M82.76 331.1v-5.2M82.76 183.35v5.2M103.23 331.1v-3M103.23 183.35v3M123.71 331.1v-5.2M123.71 183.35v5.2M144.19 331.1v-3M144.19 183.35v3M164.67 331.1v-5.2M164.67 183.35v5.2M185.14 331.1v-3M185.14 183.35v3M205.62 331.1v-5.2M205.62 183.35v5.2M226.1 331.1v-3M226.1 183.35v3M41.8 331.1h3M226.1 331.1h-3M41.8 316.33h5.2M226.1 316.33h-5.2M41.8 301.55h3M226.1 301.55h-3M41.8 286.78h5.2M226.1 286.78h-5.2M41.8 272h3M226.1 272h-3M41.8 257.23h5.2M226.1 257.23h-5.2M41.8 242.45h3M226.1 242.45h-3M41.8 227.68h5.2M226.1 227.68h-5.2M41.8 212.9h3M226.1 212.9h-3M41.8 198.12h5.2M226.1 198.12h-5.2M41.8 183.35h3M226.1 183.35h-3" stroke="#000" stroke-width="1.3" fill="none"/>
<text x="41.8" y="346.1" text-anchor="middle" font-size="11">0</text>
<text x="82.76" y="346.1" text-anchor="middle" font-size="11">200</text>
<text x="123.71" y="346.1" text-anchor="middle" font-size="11">400</text>
<text x="164.67" y="346.1" text-anchor="middle" font-size="11">600</text>
<text x="205.62" y="346.1" text-anchor="middle" font-size="11">800</text>
<text x="35.5" y="320.13" text-anchor="end" font-size="11">500</text>
<text x="35.5" y="290.58" text-anchor="end" font-size="11">600</text>
<text x="35.5" y="261.03" text-anchor="end" font-size="11">700</text>
<text x="35.5" y="231.48" text-anchor="end" font-size="11">800</text>
<text x="35.5" y="201.93" text-anchor="end" font-size="11">900</text>
<text x="133.55" y="362.7" text-anchor="middle" font-size="11">CoPt Growth Temperature (<tspan font-size="7.5" dy="-4" dx="2.0">o</tspan><tspan dy="4">C)</tspan></text>
<text transform="translate(12.2 261.83) rotate(-90)" text-anchor="middle" font-size="11">Magnetization (emu/cm<tspan font-size="7.5" dy="-4">3</tspan><tspan dy="4">)</tspan></text>
<text x="50.5" y="196.65" text-anchor="start" font-size="10.6">(d)</text>
<path d="M273.87 286.21L276.17 282.21L278.47 286.21ZM309.71 317.53L312.01 313.53L314.31 317.53ZM319.94 317.53L322.24 313.53L324.54 317.53ZM330.18 318.13L332.48 314.13L334.78 318.13ZM340.42 319.9L342.72 315.9L345.02 319.9ZM350.66 319.9L352.96 315.9L355.26 319.9ZM360.9 311.33L363.2 307.33L365.5 311.33ZM381.38 295.37L383.68 291.37L385.98 295.37ZM401.86 283.26L404.16 279.26L406.46 283.26ZM422.33 214.7L424.63 210.7L426.93 214.7ZM432.57 220.61L434.87 216.61L437.17 220.61ZM442.81 211.75L445.11 207.75L447.41 211.75Z" fill="#000"/>
<path d="M274.28 310.63L278.48 312.78L274.28 314.93ZM310.12 271.92L314.32 274.07L310.12 276.22ZM320.35 273.99L324.55 276.14L320.35 278.29ZM330.59 273.99L334.79 276.14L330.59 278.29ZM340.83 275.46L345.03 277.61L340.83 279.76ZM351.07 276.65L355.27 278.8L351.07 280.95ZM361.31 308.86L365.51 311.01L361.31 313.16ZM381.79 314.18L385.99 316.33L381.79 318.48ZM402.27 292.9L406.47 295.05L402.27 297.2ZM422.74 191.54L426.94 193.69L422.74 195.84ZM432.98 197.75L437.18 199.9L432.98 202.05ZM443.22 201.59L447.42 203.74L443.22 205.89Z" fill="#828282"/>
<rect x="271.05" y="183.35" width="184.3" height="147.75" fill="none" stroke="#000" stroke-width="1.3"/>
<path d="M271.05 331.1v-5.2M271.05 183.35v5.2M291.53 331.1v-3M291.53 183.35v3M312.01 331.1v-5.2M312.01 183.35v5.2M332.48 331.1v-3M332.48 183.35v3M352.96 331.1v-5.2M352.96 183.35v5.2M373.44 331.1v-3M373.44 183.35v3M393.92 331.1v-5.2M393.92 183.35v5.2M414.39 331.1v-3M414.39 183.35v3M434.87 331.1v-5.2M434.87 183.35v5.2M455.35 331.1v-3M455.35 183.35v3M271.05 331.1h5.2M455.35 331.1h-5.2M271.05 316.33h3M455.35 316.33h-3M271.05 301.55h5.2M455.35 301.55h-5.2M271.05 286.78h3M455.35 286.78h-3M271.05 272h5.2M455.35 272h-5.2M271.05 257.23h3M455.35 257.23h-3M271.05 242.45h5.2M455.35 242.45h-5.2M271.05 227.68h3M455.35 227.68h-3M271.05 212.9h5.2M455.35 212.9h-5.2M271.05 198.12h3M455.35 198.12h-3M271.05 183.35h5.2M455.35 183.35h-5.2" stroke="#000" stroke-width="1.3" fill="none"/>
<text x="271.05" y="346.1" text-anchor="middle" font-size="11">0</text>
<text x="312.01" y="346.1" text-anchor="middle" font-size="11">200</text>
<text x="352.96" y="346.1" text-anchor="middle" font-size="11">400</text>
<text x="393.92" y="346.1" text-anchor="middle" font-size="11">600</text>
<text x="434.87" y="346.1" text-anchor="middle" font-size="11">800</text>
<text x="264.75" y="334.9" text-anchor="end" font-size="11">0</text>
<text x="264.75" y="305.35" text-anchor="end" font-size="11">1</text>
<text x="264.75" y="275.8" text-anchor="end" font-size="11">2</text>
<text x="264.75" y="246.25" text-anchor="end" font-size="11">3</text>
<text x="264.75" y="216.7" text-anchor="end" font-size="11">4</text>
<text x="264.75" y="187.15" text-anchor="end" font-size="11">5</text>
<text x="362.8" y="362.7" text-anchor="middle" font-size="11">CoPt Growth Temperature (<tspan font-size="7.5" dy="-4" dx="2.0">o</tspan><tspan dy="4">C)</tspan></text>
<text transform="translate(254.45 257.23) rotate(-90)" text-anchor="middle" font-size="11">Saturation Field (T)</text>
<text x="280.15" y="196.65" text-anchor="start" font-size="10.6">(e)</text>
<path d="M502.87 324.92L505.17 320.92L507.47 324.92ZM538.71 322.85L541.01 318.85L543.31 322.85ZM548.94 324.48L551.24 320.48L553.54 324.48ZM559.18 326.55L561.48 322.55L563.78 326.55ZM569.42 326.55L571.72 322.55L574.02 326.55ZM579.66 327.73L581.96 323.73L584.26 327.73ZM589.9 323.74L592.2 319.74L594.5 323.74ZM610.38 295.22L612.68 291.22L614.98 295.22ZM630.86 256.66L633.16 252.66L635.46 256.66ZM651.33 207.9L653.63 203.9L655.93 207.9ZM661.57 206.28L663.87 202.28L666.17 206.28ZM671.81 204.06L674.11 200.06L676.41 204.06Z" fill="#000"/>
<path d="M503.28 237.64L507.48 239.79L503.28 241.94ZM539.12 293.79L543.32 295.94L539.12 298.09ZM549.35 295.41L553.55 297.56L549.35 299.71ZM559.59 296.89L563.79 299.04L559.59 301.19ZM569.83 298.22L574.03 300.37L569.83 302.52ZM580.07 296.59L584.27 298.74L580.07 300.89ZM590.31 270.15L594.51 272.3L590.31 274.45ZM610.79 213.26L614.99 215.41L610.79 217.56ZM631.27 200.26L635.47 202.41L631.27 204.56ZM651.74 201.88L655.94 204.03L651.74 206.19ZM661.98 197.9L666.18 200.05L661.98 202.2ZM672.22 199.08L676.42 201.23L672.22 203.38Z" fill="#828282"/>
<rect x="500.05" y="183.35" width="184.3" height="147.75" fill="none" stroke="#000" stroke-width="1.3"/>
<path d="M500.05 331.1v-5.2M500.05 183.35v5.2M520.53 331.1v-3M520.53 183.35v3M541.01 331.1v-5.2M541.01 183.35v5.2M561.48 331.1v-3M561.48 183.35v3M581.96 331.1v-5.2M581.96 183.35v5.2M602.44 331.1v-3M602.44 183.35v3M622.92 331.1v-5.2M622.92 183.35v5.2M643.39 331.1v-3M643.39 183.35v3M663.87 331.1v-5.2M663.87 183.35v5.2M684.35 331.1v-3M684.35 183.35v3M500.05 331.1h5.2M684.35 331.1h-5.2M500.05 312.63h3M684.35 312.63h-3M500.05 294.16h5.2M684.35 294.16h-5.2M500.05 275.69h3M684.35 275.69h-3M500.05 257.23h5.2M684.35 257.23h-5.2M500.05 238.76h3M684.35 238.76h-3M500.05 220.29h5.2M684.35 220.29h-5.2M500.05 201.82h3M684.35 201.82h-3M500.05 183.35h5.2M684.35 183.35h-5.2" stroke="#000" stroke-width="1.3" fill="none"/>
<text x="500.05" y="346.1" text-anchor="middle" font-size="11">0</text>
<text x="541.01" y="346.1" text-anchor="middle" font-size="11">200</text>
<text x="581.96" y="346.1" text-anchor="middle" font-size="11">400</text>
<text x="622.92" y="346.1" text-anchor="middle" font-size="11">600</text>
<text x="663.87" y="346.1" text-anchor="middle" font-size="11">800</text>
<text x="493.75" y="334.9" text-anchor="end" font-size="11">0.00</text>
<text x="493.75" y="297.96" text-anchor="end" font-size="11">0.25</text>
<text x="493.75" y="261.03" text-anchor="end" font-size="11">0.50</text>
<text x="493.75" y="224.09" text-anchor="end" font-size="11">0.75</text>
<text x="493.75" y="187.15" text-anchor="end" font-size="11">1.00</text>
<text x="591.8" y="362.7" text-anchor="middle" font-size="11">CoPt Growth Temperature (<tspan font-size="7.5" dy="-4" dx="2.0">o</tspan><tspan dy="4">C)</tspan></text>
<text transform="translate(467.95 257.23) rotate(-90)" text-anchor="middle" font-size="11">Squareness Ratio</text>
<text x="509.15" y="196.65" text-anchor="start" font-size="10.6">(f)</text>
<path d="M161.7 119.8H185.6" stroke="#ccc" stroke-width="1.3"/>
<path d="M161.7 133.3H185.6" stroke="#999" stroke-width="1.3"/>
<path d="M171.7 121.39L174 117.19L176.3 121.39Z" fill="#000"/>
<path d="M172.11 131L176.31 133.3L172.11 135.6Z" fill="#8a8a8a"/>
<text x="189.6" y="123.7" text-anchor="start" font-size="11">OOP</text>
<text x="189.6" y="137" text-anchor="start" font-size="11">IP</text>
</svg></body></html>
